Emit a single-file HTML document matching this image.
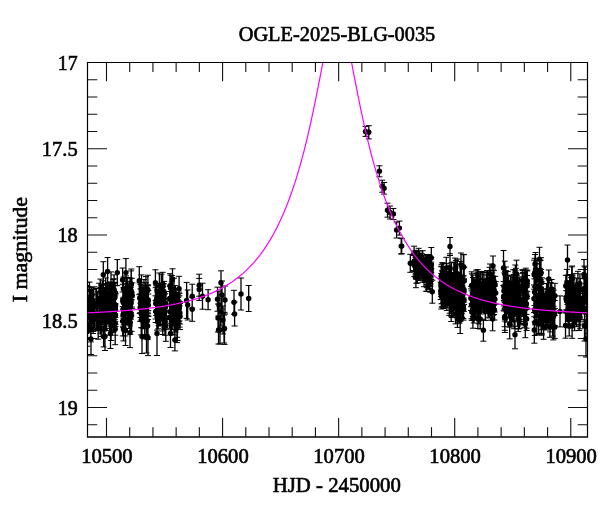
<!DOCTYPE html><html><head><meta charset="utf-8"><style>html,body{margin:0;padding:0;background:#fff;width:600px;height:512px;overflow:hidden}</style></head><body>
<svg width="600" height="512" viewBox="0 0 600 512" style="display:block;will-change:transform;font-family:'Liberation Serif',serif">
<rect width="600" height="512" fill="#fff"/>
<path d="M87.5,62.50h19.5M587.5,62.50h-19.5M87.5,79.75h9.8M587.5,79.75h-9.8M87.5,97.00h9.8M587.5,97.00h-9.8M87.5,114.25h9.8M587.5,114.25h-9.8M87.5,131.50h9.8M587.5,131.50h-9.8M87.5,148.75h19.5M587.5,148.75h-19.5M87.5,166.00h9.8M587.5,166.00h-9.8M87.5,183.25h9.8M587.5,183.25h-9.8M87.5,200.50h9.8M587.5,200.50h-9.8M87.5,217.75h9.8M587.5,217.75h-9.8M87.5,235.00h19.5M587.5,235.00h-19.5M87.5,252.25h9.8M587.5,252.25h-9.8M87.5,269.50h9.8M587.5,269.50h-9.8M87.5,286.75h9.8M587.5,286.75h-9.8M87.5,304.00h9.8M587.5,304.00h-9.8M87.5,321.25h19.5M587.5,321.25h-19.5M87.5,338.50h9.8M587.5,338.50h-9.8M87.5,355.75h9.8M587.5,355.75h-9.8M87.5,373.00h9.8M587.5,373.00h-9.8M87.5,390.25h9.8M587.5,390.25h-9.8M87.5,407.50h19.5M587.5,407.50h-19.5M87.5,424.75h9.8M587.5,424.75h-9.8M106.50,436.7v-18.8M106.50,62.5v18.8M129.71,436.7v-9.4M129.71,62.5v9.4M152.93,436.7v-9.4M152.93,62.5v9.4M176.14,436.7v-9.4M176.14,62.5v9.4M199.36,436.7v-9.4M199.36,62.5v9.4M222.57,436.7v-18.8M222.57,62.5v18.8M245.78,436.7v-9.4M245.78,62.5v9.4M269.00,436.7v-9.4M269.00,62.5v9.4M292.21,436.7v-9.4M292.21,62.5v9.4M315.43,436.7v-9.4M315.43,62.5v9.4M338.64,436.7v-18.8M338.64,62.5v18.8M361.85,436.7v-9.4M361.85,62.5v9.4M385.07,436.7v-9.4M385.07,62.5v9.4M408.28,436.7v-9.4M408.28,62.5v9.4M431.50,436.7v-9.4M431.50,62.5v9.4M454.71,436.7v-18.8M454.71,62.5v18.8M477.92,436.7v-9.4M477.92,62.5v9.4M501.14,436.7v-9.4M501.14,62.5v9.4M524.35,436.7v-9.4M524.35,62.5v9.4M547.57,436.7v-9.4M547.57,62.5v9.4M570.78,436.7v-18.8M570.78,62.5v18.8" stroke="#111" stroke-width="1.1" fill="none"/>
<g id="data" clip-path="url(#clip)">
<clipPath id="clip"><rect x="87.5" y="62.5" width="500" height="374.2"/></clipPath>
<path d="M419.9,255.2V271.2M422.5,258.9V282.2M421.4,256.4V275.9M416.1,262.3V278.1M416.9,256.3V279.1M422.3,258.7V279.1M414.1,251.2V270.9M421.8,257.6V275.4M421.6,257.0V275.1M418.4,262.3V278.7M416.9,257.1V271.5M416.6,255.8V278.6M416.4,251.4V270.0M418.2,254.9V274.4M418.8,255.3V272.5M419.3,251.0V272.6M423.5,262.7V276.9M421.5,255.7V273.4M419.9,264.6V278.9M423.4,259.5V274.7M416.0,255.4V279.1M415.5,257.4V277.9M419.8,259.0V277.3M414.4,252.2V271.4M414.3,253.9V276.6M418.9,254.2V271.6M418.4,254.9V274.8M422.7,250.7V271.6M420.0,262.8V280.4M418.9,253.0V272.2M418.7,248.3V269.9M416.4,260.1V283.2M414.1,246.2V261.8M415.8,250.3V273.7M420.6,258.1V272.2M415.9,266.1V287.7M417.5,260.9V283.0M414.0,255.5V270.8M421.9,253.7V271.9M415.5,252.8V274.9M423.6,259.7V273.9M428.5,256.2V273.3M429.8,255.3V278.7M427.6,267.1V286.5M429.3,264.7V286.8M425.3,255.3V275.9M425.1,262.4V282.5M426.4,262.8V278.7M424.9,262.5V282.2M426.3,266.0V280.4M431.1,257.3V279.3M428.1,265.7V289.3M426.2,259.3V281.8M425.7,265.5V280.0M431.1,264.2V281.6M427.1,258.0V275.2M431.3,257.3V272.4M427.6,259.6V279.9M427.7,263.7V285.7M430.7,266.8V284.0M429.4,262.9V285.5M428.1,254.6V276.6M426.9,269.1V284.4M430.5,264.4V286.1M426.8,264.9V287.7M430.9,263.3V279.3M424.0,267.0V286.7M426.9,254.5V274.8M427.7,258.1V278.2M431.1,262.1V277.1M425.5,260.9V281.5M429.9,271.8V292.1M428.9,266.2V288.5M429.2,263.6V285.6M428.5,257.1V274.4M431.3,247.5V268.7M426.2,268.5V291.2M426.7,268.6V291.5M441.8,282.0V307.2M440.7,282.2V299.5M445.8,274.8V291.7M442.3,262.7V288.5M445.1,278.4V295.6M448.2,284.1V301.8M443.6,267.9V289.6M442.6,270.4V290.9M444.2,275.7V299.2M445.9,283.8V301.7M441.3,283.8V309.0M443.6,268.1V286.2M441.6,266.8V290.5M445.9,285.7V302.3M447.3,279.7V300.5M443.6,283.9V300.2M443.5,289.4V308.5M444.9,287.9V307.0M442.3,283.5V306.7M442.5,283.2V303.7M443.2,275.6V292.2M444.3,277.1V303.0M441.2,266.2V291.1M446.7,280.4V305.6M445.2,283.7V302.2M443.0,282.1V302.0M441.1,276.0V294.3M446.8,274.8V292.1M441.6,276.3V292.7M441.6,264.3V285.4M441.6,286.5V303.7M441.2,278.7V296.4M447.9,271.4V296.0M442.7,271.6V292.4M443.0,263.2V281.0M447.3,274.3V297.0M445.6,288.5V307.2M442.0,270.8V292.0M444.1,274.1V293.0M447.7,273.0V294.2M443.6,276.8V299.1M446.3,257.3V278.7M441.3,273.5V293.4M446.5,263.4V287.3M446.9,285.6V310.4M451.5,262.6V289.4M450.9,288.9V305.7M450.5,269.0V295.2M464.2,267.3V294.7M463.6,297.9V320.1M452.3,272.7V289.5M464.0,278.8V304.4M452.0,294.0V313.5M456.7,289.5V314.5M456.6,285.1V306.3M463.2,293.6V318.5M449.3,282.3V301.9M453.7,287.1V309.8M458.2,294.9V318.2M449.7,288.4V313.2M452.4,289.9V308.7M456.0,274.9V304.4M462.6,285.9V305.9M460.7,279.1V299.4M461.8,293.7V313.3M460.7,280.1V297.1M459.9,281.2V303.1M462.1,290.6V317.4M459.5,280.7V306.6M460.3,277.5V296.2M453.5,297.9V315.9M451.3,278.4V298.9M460.7,294.3V321.0M451.3,293.8V316.6M463.2,276.9V305.8M458.1,289.6V314.8M453.9,262.1V286.8M463.5,275.6V302.4M451.2,295.0V321.5M456.8,286.4V307.2M450.1,286.1V305.7M464.0,289.2V311.3M457.8,289.4V312.2M461.4,287.9V305.9M453.2,279.2V301.3M461.4,268.0V293.0M459.8,276.0V293.9M458.9,276.0V294.0M463.7,281.4V299.9M455.5,304.0V323.9M455.3,272.7V302.2M459.6,283.2V299.5M461.9,279.0V297.5M454.0,287.7V306.0M459.3,300.5V323.2M452.0,301.3V317.6M457.4,277.3V299.7M460.9,287.3V305.6M449.7,284.5V304.3M460.2,306.5V333.5M448.9,265.2V283.7M463.8,254.7V279.3M456.1,264.1V285.8M455.2,258.1V280.0M460.1,293.5V320.9M457.0,299.4V317.7M460.2,261.4V290.3M450.0,253.8V282.3M457.6,274.3V299.7M457.5,310.7V327.4M463.4,254.4V279.6M449.3,291.0V315.4M455.9,260.4V287.2M458.7,303.1V322.1M457.4,259.1V288.4M493.2,298.6V315.0M473.9,282.0V309.0M478.9,283.3V306.6M471.8,303.6V320.4M491.8,279.1V302.0M493.9,270.6V292.1M495.7,281.6V304.3M486.3,272.6V297.5M487.6,270.6V294.8M488.0,284.8V312.7M485.3,302.5V320.4M494.8,286.2V312.0M486.2,290.9V311.8M479.4,278.0V303.4M483.8,285.5V312.2M471.5,290.9V318.8M489.1,289.9V309.0M488.3,295.8V317.2M481.5,284.5V311.8M492.3,272.9V300.2M489.9,289.0V309.5M479.4,282.6V309.8M472.9,275.0V295.9M474.3,290.2V310.7M475.6,294.4V319.5M478.6,273.6V295.3M482.2,287.3V308.7M494.2,293.9V314.5M478.0,282.7V303.9M493.5,280.1V297.8M488.0,283.9V300.7M492.3,285.4V310.4M481.1,291.3V314.0M471.1,286.4V310.5M490.7,270.7V296.3M477.1,297.6V316.4M474.6,301.1V319.9M491.0,273.7V293.0M488.2,278.4V298.1M476.3,273.2V298.3M477.7,297.8V318.3M494.5,300.1V320.0M477.7,269.6V293.3M488.6,281.9V300.1M474.2,277.7V295.0M491.4,283.3V307.7M473.9,297.9V323.0M483.9,272.5V292.1M471.9,273.8V297.5M484.8,287.9V304.3M492.2,286.9V307.7M473.1,293.1V316.1M477.9,284.9V304.0M490.1,274.6V294.7M486.2,280.0V303.3M478.8,300.9V323.9M486.7,295.8V313.7M482.4,271.6V296.1M492.6,298.2V315.2M478.3,276.4V304.1M489.9,296.6V315.0M486.9,270.9V289.9M489.5,299.6V318.0M480.5,271.4V299.3M489.1,285.3V304.8M488.5,290.2V313.5M480.7,282.8V310.7M471.7,271.8V299.2M495.1,276.3V292.8M488.8,278.3V300.5M476.1,270.1V293.3M489.3,274.9V299.4M478.0,274.3V294.3M482.7,285.4V305.3M492.5,283.7V299.8M482.2,291.2V307.6M478.2,278.0V300.6M478.6,272.7V289.6M472.9,309.8V328.2M476.5,285.6V305.6M477.8,287.0V303.8M475.3,283.8V300.1M472.6,284.4V311.5M482.6,279.1V300.3M476.4,286.0V304.4M489.5,267.3V291.8M494.1,282.6V298.7M477.8,309.5V328.5M485.3,281.6V309.2M483.7,279.4V306.1M472.9,293.0V316.7M474.1,299.0V316.2M493.1,269.1V289.0M482.9,285.1V301.4M491.1,301.6V320.2M472.7,292.6V308.9M485.9,289.7V307.2M492.6,307.2V330.8M492.7,277.3V294.5M471.1,288.9V306.7M484.0,274.9V301.8M480.2,309.0V329.0M490.0,264.0V284.0M472.8,277.5V294.5M477.6,275.4V301.0M519.7,301.6V319.7M516.6,275.5V298.0M518.3,302.1V331.6M505.9,278.0V297.4M509.7,298.8V327.2M517.5,300.4V326.3M526.4,292.9V314.4M523.1,286.1V313.5M518.9,276.9V298.4M516.0,285.4V314.1M503.9,281.5V300.5M524.9,275.1V294.5M505.1,271.4V298.4M506.6,298.7V322.1M520.1,305.2V324.9M523.0,273.3V297.5M522.4,269.7V291.3M514.4,277.7V302.3M507.7,271.6V298.6M504.3,273.0V301.3M523.9,292.8V311.5M527.0,283.5V308.6M509.4,281.4V311.2M524.3,276.1V299.6M513.2,291.6V318.9M511.0,281.4V300.6M515.6,280.9V309.4M503.7,285.1V310.1M514.1,300.0V328.7M508.3,275.6V303.1M520.6,293.1V321.5M515.6,282.4V301.1M524.4,300.7V327.3M525.0,284.8V305.2M511.1,288.6V309.8M510.2,302.4V324.3M526.0,293.0V318.1M515.6,270.8V296.4M505.8,270.6V299.8M504.6,308.6V326.7M527.3,270.9V291.3M517.4,280.3V302.6M504.8,302.5V330.3M515.8,268.3V292.9M515.6,274.1V298.2M513.9,274.5V301.7M526.3,270.4V296.2M526.3,287.2V308.7M506.5,293.0V312.0M507.1,280.3V303.9M513.3,269.8V298.4M523.5,298.2V323.4M518.5,301.3V319.9M521.0,289.7V313.0M517.3,273.9V296.5M508.5,288.1V313.1M523.1,291.4V316.4M503.8,281.6V311.0M520.3,301.8V323.9M508.2,283.4V306.3M514.8,286.7V312.1M526.9,270.0V298.7M516.4,288.2V314.7M504.9,297.3V321.0M513.8,293.9V321.7M519.3,277.9V301.7M504.9,302.9V332.5M509.6,296.7V318.1M503.9,286.3V305.9M516.5,281.8V309.7M512.7,298.8V320.4M515.6,272.6V300.8M510.6,291.6V317.0M519.3,295.3V319.4M507.7,290.1V309.1M525.3,310.3V337.7M526.5,309.5V328.2M515.3,265.0V294.6M514.7,269.6V298.1M524.1,281.2V302.8M510.5,306.6V326.2M522.8,270.4V299.1M510.4,275.2V298.9M520.8,304.6V324.1M511.5,302.0V326.0M518.0,282.0V303.0M525.7,268.2V291.1M504.8,261.2V286.8M522.9,272.4V301.4M516.5,260.2V287.8M512.6,302.0V322.0M511.9,276.2V299.9M505.2,295.4V319.3M509.7,309.1V338.9M518.5,309.8V328.9M505.8,267.0V291.1M519.6,299.6V328.6M526.6,307.7V330.5M527.0,275.5V296.6M524.8,270.1V294.8M536.5,263.9V286.0M541.2,284.3V309.7M534.7,258.3V287.1M535.6,286.1V308.4M534.7,297.4V322.1M539.6,293.8V317.2M536.3,290.4V316.2M541.0,257.7V287.3M541.0,272.9V292.6M541.3,303.7V333.3M536.0,263.7V289.6M534.0,285.0V312.6M537.0,259.9V285.5M541.5,306.5V334.9M540.0,268.3V290.2M534.5,278.9V305.4M539.5,288.9V310.1M541.2,296.8V320.9M541.5,307.5V333.7M539.6,299.6V320.0M540.7,279.4V298.1M540.6,260.3V287.8M536.8,294.3V322.1M534.8,309.5V335.5M539.7,260.0V281.8M535.1,298.9V324.8M537.0,270.0V289.0M541.8,281.9V307.8M538.4,285.8V310.7M538.1,290.5V315.9M541.4,311.8V335.1M536.2,296.8V317.5M541.8,277.8V304.5M541.1,306.2V329.8M536.8,307.6V334.6M536.6,293.5V315.9M535.0,254.5V273.5M541.1,269.4V293.9M535.4,273.9V299.4M534.1,260.2V289.2M540.9,287.2V315.8M538.7,314.7V333.4M539.2,272.4V299.6M539.7,260.7V281.8M534.3,316.8V343.2M546.8,302.7V325.8M546.1,302.3V321.2M548.2,289.8V311.7M548.8,290.9V318.4M551.0,301.8V320.6M550.2,306.3V331.9M550.8,289.5V316.2M546.9,293.7V316.8M550.7,282.6V308.6M546.4,301.9V324.3M549.8,295.8V317.3M547.9,304.2V327.3M549.2,291.1V311.0M542.0,301.6V322.7M548.4,302.0V323.0M544.7,293.1V321.0M546.9,289.2V310.6M542.8,295.3V315.6M550.5,300.7V328.1M553.6,290.2V309.6M546.5,283.5V311.2M543.2,293.8V320.3M550.0,288.9V313.3M543.5,304.7V327.0M553.6,306.3V326.2M543.4,310.0V329.1M546.6,307.3V326.4M548.3,301.1V322.6M543.4,288.8V310.9M546.0,302.8V330.0M545.4,302.2V325.6M551.2,300.5V328.4M554.8,300.5V325.7M546.6,306.8V326.3M552.2,291.0V314.5M543.7,302.7V322.3M549.5,300.8V319.2M547.5,278.8V306.2M545.6,305.7V327.0M552.6,288.5V308.4M551.7,279.5V298.5M543.6,314.7V339.3M545.7,306.1V328.7M552.6,317.9V336.1M554.9,283.3V308.4M549.9,316.7V337.3M553.3,314.1V339.9M554.8,315.6V338.4M571.1,277.6V297.3M570.3,286.9V308.7M572.6,301.5V324.2M575.9,294.4V321.9M573.9,273.6V301.0M566.2,285.2V312.9M570.7,294.7V320.0M568.0,296.7V321.5M566.6,290.5V311.2M567.5,280.7V302.4M568.1,309.8V327.8M575.6,288.2V314.5M573.3,299.7V320.5M574.5,294.3V313.1M572.8,277.2V298.4M568.8,282.7V303.9M569.6,274.6V299.8M570.1,282.6V300.7M568.6,281.9V302.2M569.9,286.0V313.0M573.6,283.0V309.5M566.3,285.5V309.8M568.4,301.8V325.4M570.5,275.6V295.9M572.6,275.2V302.0M572.3,300.5V326.1M573.1,292.1V315.3M566.6,290.6V310.2M567.4,284.3V304.4M568.7,293.1V314.9M568.5,282.1V303.4M573.4,305.7V324.3M575.9,302.8V324.9M572.7,285.0V307.5M565.8,275.4V296.3M568.6,305.1V327.0M573.9,284.8V306.1M575.2,298.5V320.3M571.7,266.9V291.1M569.2,303.4V326.4M569.2,316.0V336.0M572.2,266.0V292.0M574.6,307.6V330.7M569.1,297.4V320.0M567.5,288.1V313.2M565.5,312.7V338.2M566.9,269.4V295.9M574.4,292.2V318.3M572.1,313.7V338.3M575.9,286.6V311.8M578.5,283.8V302.3M587.2,285.7V307.9M580.1,300.4V324.9M580.1,289.9V309.4M577.9,271.3V297.7M582.4,290.2V310.2M576.3,278.1V303.2M586.5,273.7V293.3M588.0,306.7V333.5M588.4,284.2V304.2M578.1,290.8V316.1M586.3,283.4V309.8M589.4,274.8V295.3M576.6,307.8V326.7M579.1,306.6V330.5M580.3,278.6V301.6M583.4,287.5V310.3M578.8,284.3V310.1M584.6,278.0V300.7M581.5,296.7V319.6M586.5,301.3V324.2M584.5,300.6V323.1M587.0,297.6V319.7M579.9,273.9V293.5M587.3,281.2V302.2M587.8,292.2V312.9M587.6,316.8V337.2M577.1,293.9V319.7M591.1,302.9V322.1M585.2,267.0V287.0M580.4,288.2V311.4M582.9,290.2V311.4M584.3,287.6V308.0M584.3,266.1V287.9M580.0,305.8V328.8M97.5,291.7V316.3M102.5,280.8V309.8M100.5,306.1V333.8M93.3,307.4V331.4M93.7,303.8V330.2M93.1,306.2V333.5M90.1,289.4V315.8M102.2,297.9V319.2M87.2,282.3V314.2M89.5,282.1V313.7M97.3,308.1V328.6M96.0,288.6V320.0M90.7,315.5V341.9M101.9,299.9V321.4M93.0,289.6V319.5M96.1,304.2V329.4M87.5,311.0V339.6M101.1,299.2V329.1M87.8,286.4V312.9M92.7,302.9V323.5M101.1,306.8V336.6M102.1,291.6V320.0M101.4,288.0V318.9M100.1,307.0V330.3M90.0,296.5V325.9M86.5,285.4V315.9M93.7,294.6V318.9M87.1,291.1V316.0M102.3,300.5V324.5M86.1,300.9V321.0M91.5,308.4V331.2M89.5,304.0V328.0M86.2,286.1V307.4M94.5,298.9V328.1M87.3,305.1V330.2M101.3,300.5V327.3M97.7,307.0V330.5M92.3,293.2V317.5M100.3,287.4V316.4M99.5,305.1V330.7M91.5,287.4V314.5M100.4,279.1V304.2M101.8,305.4V332.1M96.5,288.5V319.2M92.0,295.8V319.0M101.3,285.0V311.2M102.0,284.6V312.9M91.9,289.6V310.7M87.5,291.2V322.7M100.8,300.2V326.1M89.6,301.6V324.5M87.4,317.0V346.2M93.5,288.1V317.9M98.2,311.6V339.2M99.2,283.2V314.1M86.3,316.6V337.7M102.0,285.2V311.5M90.2,290.0V318.9M91.0,323.5V354.5M100.2,301.0V328.7M111.1,311.3V340.5M108.2,288.3V309.8M110.7,303.2V323.3M110.5,282.0V314.0M115.2,311.5V335.2M114.2,291.0V317.1M113.0,295.2V317.7M115.5,304.1V326.6M103.9,305.9V330.7M113.4,282.3V311.7M109.3,293.7V314.1M113.1,279.4V309.5M107.0,292.3V324.2M109.3,292.7V319.4M114.1,291.7V316.0M103.5,289.4V312.2M106.9,292.4V314.6M109.6,288.3V312.2M114.5,296.7V326.9M106.6,310.6V330.7M114.1,274.9V304.3M106.3,292.0V320.0M107.1,293.1V313.4M110.5,301.0V321.8M111.8,284.0V312.8M114.9,291.6V319.7M114.9,285.8V309.5M106.4,298.1V328.4M113.1,296.6V319.2M111.6,293.0V318.1M108.2,299.6V321.0M113.5,290.9V318.7M115.1,282.5V303.5M109.5,301.3V323.4M115.4,295.0V324.2M104.7,292.6V318.6M105.2,301.9V329.8M113.3,303.6V332.4M107.1,283.5V310.8M110.9,288.8V311.2M109.7,306.7V335.1M105.0,309.1V330.5M113.2,288.7V312.0M113.0,283.7V309.1M105.0,290.6V311.9M106.5,291.9V313.2M113.8,278.8V306.7M115.3,292.8V321.7M114.7,283.3V307.7M109.8,283.8V308.4M105.7,277.9V300.4M113.6,293.9V320.2M111.6,305.1V332.0M113.8,299.2V330.4M103.6,326.4V346.9M115.2,313.8V344.7M108.2,282.3V314.2M115.5,293.5V317.6M111.0,271.9V300.6M110.4,296.1V326.0M129.0,298.0V324.5M125.4,309.8V335.9M128.7,285.2V309.6M131.3,269.0V299.4M123.6,287.5V318.3M127.3,291.8V313.7M122.7,306.6V335.9M130.9,289.3V312.6M130.3,292.8V315.0M123.0,298.2V320.5M130.0,304.8V331.7M129.4,291.8V315.1M123.8,301.9V324.8M127.8,298.1V319.3M129.4,289.4V313.3M125.9,290.1V319.3M127.5,294.1V314.4M132.3,282.9V308.7M128.9,301.3V328.5M127.5,281.2V301.8M123.2,302.8V326.3M123.7,297.2V328.0M131.0,287.2V319.1M129.9,282.0V312.2M130.9,290.9V313.0M128.3,293.7V322.8M128.3,298.0V323.4M127.8,295.6V317.6M129.9,300.0V325.8M125.8,283.4V314.5M127.5,290.8V321.4M127.2,277.5V302.2M129.1,300.5V321.3M124.7,290.0V320.8M122.8,284.3V316.2M123.4,301.4V327.5M124.3,298.9V321.6M131.1,270.9V297.5M129.7,290.2V318.5M130.0,278.0V303.8M126.1,275.9V300.1M123.5,318.0V340.9M123.4,277.1V300.7M128.8,298.2V318.8M130.2,311.2V334.3M131.6,299.8V331.3M126.1,278.7V298.8M131.9,278.3V307.0M146.6,304.0V335.1M143.1,288.0V315.5M144.9,303.2V328.2M141.5,288.9V310.6M145.5,291.3V320.4M145.9,276.6V303.0M146.1,294.5V316.6M143.9,291.9V323.7M148.2,285.0V316.4M147.3,285.0V316.1M144.7,309.0V338.9M145.6,282.9V309.3M142.0,285.7V309.3M148.0,285.8V313.6M145.3,306.9V328.7M147.6,312.2V339.6M142.1,299.6V320.4M148.3,290.5V310.6M140.4,288.9V317.4M144.3,304.5V328.6M140.5,284.6V313.0M141.2,305.4V334.8M146.4,304.7V334.8M140.1,293.9V321.3M142.9,297.7V327.9M141.2,299.8V327.7M147.2,305.4V336.6M140.2,282.2V312.9M142.5,307.4V327.9M147.2,292.0V315.2M145.7,287.8V312.4M145.8,296.4V319.4M148.4,294.0V316.1M139.7,282.9V313.4M145.5,282.5V302.8M146.2,287.4V309.6M141.5,274.9V304.0M144.0,279.6V302.3M142.5,297.0V320.1M141.6,286.0V317.6M147.9,275.2V304.3M144.1,300.6V326.0M145.4,291.9V313.6M158.3,303.9V328.8M165.8,310.3V341.3M163.8,298.6V329.2M156.2,285.8V315.5M162.9,285.9V310.4M159.4,273.0V299.4M163.1,289.6V311.7M158.6,289.9V319.0M156.9,299.4V330.1M155.7,300.5V322.5M158.6,296.8V325.8M164.5,293.8V322.1M164.9,301.7V322.2M162.7,303.5V334.5M163.4,283.5V309.3M157.5,290.3V313.5M159.2,283.3V303.7M164.9,305.9V335.3M165.9,305.6V329.7M160.2,299.7V325.9M163.6,284.0V306.4M165.3,293.9V321.2M166.0,291.5V316.3M158.6,291.9V321.6M162.4,290.3V318.3M159.6,296.3V325.0M160.4,290.9V314.0M160.4,303.3V324.1M158.4,292.9V323.5M155.7,287.7V319.0M163.5,291.1V318.9M162.8,286.5V317.6M164.3,299.1V327.6M157.1,289.9V317.2M158.0,296.1V321.2M161.8,290.3V314.6M156.8,284.7V310.6M164.2,281.4V304.0M161.3,274.3V299.4M162.6,304.9V331.0M157.2,291.9V312.3M160.5,299.9V324.6M162.8,287.3V310.7M176.2,292.8V322.1M178.0,294.8V321.5M176.0,292.7V323.5M176.5,301.4V327.3M175.9,293.1V314.4M172.2,306.5V329.7M173.5,298.2V326.1M178.4,297.1V321.7M179.4,295.8V320.9M171.4,300.3V325.1M169.6,306.0V328.3M179.6,305.9V327.1M178.5,301.1V321.7M175.9,301.9V329.9M178.1,297.1V321.0M175.7,306.5V332.0M179.0,292.1V323.4M172.1,275.6V303.1M174.2,305.2V334.9M176.5,294.4V323.5M171.8,281.7V313.2M177.0,295.8V316.6M172.3,287.7V312.4M177.0,311.2V342.6M177.9,299.7V325.3M174.0,278.2V309.6M179.9,301.8V324.0M176.1,294.0V314.8M177.4,309.9V340.6M169.7,286.1V311.0M170.7,275.2V301.2M177.0,293.0V324.2M179.4,293.6V316.2M176.1,288.4V320.1M179.1,276.3V301.1M170.1,300.4V323.3M177.2,314.5V337.3M180.0,303.4V329.6M175.4,285.6V311.2M171.4,304.2V334.8M175.9,289.4V310.0M172.5,268.8V289.3M174.9,329.1V350.9M586.0,321.0V357.0M584.5,311.0V341.0M105.0,322.5V350.5M110.5,318.5V348.5M125.5,315.5V345.5M130.0,317.6V347.6M142.0,319.5V353.5M148.0,319.6V355.6M146.5,321.0V353.0M157.0,311.5V355.5M170.5,319.5V347.5M218.5,316.0V344.0M224.5,312.4V344.4M103.3,261.7V287.7M107.6,257.5V285.5M117.3,259.6V285.6M122.6,268.0V292.0M125.9,258.6V286.6M139.3,266.7V294.7M155.4,269.8V295.8M162.7,272.3V296.3M170.0,273.7V297.7M186.6,282.4V318.4M187.7,290.0V320.0M192.2,284.2V308.2M192.2,297.3V321.3M199.2,274.2V296.2M199.2,278.4V300.4M202.5,283.2V309.2M208.1,289.7V309.7M217.5,287.2V311.2M221.0,270.8V294.8M219.0,291.0V319.0M221.0,298.0V326.0M223.0,306.0V334.0M225.0,286.0V314.0M218.0,304.0V332.0M220.0,316.0V344.0M224.0,315.0V343.0M222.0,281.0V309.0M234.0,290.3V314.3M234.6,302.0V326.0M241.0,278.0V310.0M248.7,285.5V311.5M365.5,126.4V136.4M368.8,125.7V138.9M379.4,165.8V176.8M382.2,180.2V192.2M384.1,182.5V194.1M387.5,203.2V217.2M390.0,206.0V219.0M393.4,208.5V219.5M503.5,250.5V285.5M535.5,252.5V286.5M539.5,247.3V271.3M567.5,245.0V275.0M584.0,259.5V289.5M461.0,253.0V277.0M493.0,256.0V276.0M548.8,270.0V288.0M432.3,280.2V303.2M396.6,222.0V238.0M399.4,221.1V235.1M401.2,238.1V254.1M401.7,238.6V253.6M410.3,254.3V272.3M450.0,237.5V255.5M483.4,319.2V341.2M515.0,320.8V348.8M560.0,295.9V326.9" stroke="#000" stroke-width="1.3" fill="none"/>
<path d="M416.9,255.2h6M416.9,271.2h6M419.5,258.9h6M419.5,282.2h6M418.4,256.4h6M418.4,275.9h6M413.1,262.3h6M413.1,278.1h6M413.9,256.3h6M413.9,279.1h6M419.3,258.7h6M419.3,279.1h6M411.1,251.2h6M411.1,270.9h6M418.8,257.6h6M418.8,275.4h6M418.6,257.0h6M418.6,275.1h6M415.4,262.3h6M415.4,278.7h6M413.9,257.1h6M413.9,271.5h6M413.6,255.8h6M413.6,278.6h6M413.4,251.4h6M413.4,270.0h6M415.2,254.9h6M415.2,274.4h6M415.8,255.3h6M415.8,272.5h6M416.3,251.0h6M416.3,272.6h6M420.5,262.7h6M420.5,276.9h6M418.5,255.7h6M418.5,273.4h6M416.9,264.6h6M416.9,278.9h6M420.4,259.5h6M420.4,274.7h6M413.0,255.4h6M413.0,279.1h6M412.5,257.4h6M412.5,277.9h6M416.8,259.0h6M416.8,277.3h6M411.4,252.2h6M411.4,271.4h6M411.3,253.9h6M411.3,276.6h6M415.9,254.2h6M415.9,271.6h6M415.4,254.9h6M415.4,274.8h6M419.7,250.7h6M419.7,271.6h6M417.0,262.8h6M417.0,280.4h6M415.9,253.0h6M415.9,272.2h6M415.7,248.3h6M415.7,269.9h6M413.4,260.1h6M413.4,283.2h6M411.1,246.2h6M411.1,261.8h6M412.8,250.3h6M412.8,273.7h6M417.6,258.1h6M417.6,272.2h6M412.9,266.1h6M412.9,287.7h6M414.5,260.9h6M414.5,283.0h6M411.0,255.5h6M411.0,270.8h6M418.9,253.7h6M418.9,271.9h6M412.5,252.8h6M412.5,274.9h6M420.6,259.7h6M420.6,273.9h6M425.5,256.2h6M425.5,273.3h6M426.8,255.3h6M426.8,278.7h6M424.6,267.1h6M424.6,286.5h6M426.3,264.7h6M426.3,286.8h6M422.3,255.3h6M422.3,275.9h6M422.1,262.4h6M422.1,282.5h6M423.4,262.8h6M423.4,278.7h6M421.9,262.5h6M421.9,282.2h6M423.3,266.0h6M423.3,280.4h6M428.1,257.3h6M428.1,279.3h6M425.1,265.7h6M425.1,289.3h6M423.2,259.3h6M423.2,281.8h6M422.7,265.5h6M422.7,280.0h6M428.1,264.2h6M428.1,281.6h6M424.1,258.0h6M424.1,275.2h6M428.3,257.3h6M428.3,272.4h6M424.6,259.6h6M424.6,279.9h6M424.7,263.7h6M424.7,285.7h6M427.7,266.8h6M427.7,284.0h6M426.4,262.9h6M426.4,285.5h6M425.1,254.6h6M425.1,276.6h6M423.9,269.1h6M423.9,284.4h6M427.5,264.4h6M427.5,286.1h6M423.8,264.9h6M423.8,287.7h6M427.9,263.3h6M427.9,279.3h6M421.0,267.0h6M421.0,286.7h6M423.9,254.5h6M423.9,274.8h6M424.7,258.1h6M424.7,278.2h6M428.1,262.1h6M428.1,277.1h6M422.5,260.9h6M422.5,281.5h6M426.9,271.8h6M426.9,292.1h6M425.9,266.2h6M425.9,288.5h6M426.2,263.6h6M426.2,285.6h6M425.5,257.1h6M425.5,274.4h6M428.3,247.5h6M428.3,268.7h6M423.2,268.5h6M423.2,291.2h6M423.7,268.6h6M423.7,291.5h6M438.8,282.0h6M438.8,307.2h6M437.7,282.2h6M437.7,299.5h6M442.8,274.8h6M442.8,291.7h6M439.3,262.7h6M439.3,288.5h6M442.1,278.4h6M442.1,295.6h6M445.2,284.1h6M445.2,301.8h6M440.6,267.9h6M440.6,289.6h6M439.6,270.4h6M439.6,290.9h6M441.2,275.7h6M441.2,299.2h6M442.9,283.8h6M442.9,301.7h6M438.3,283.8h6M438.3,309.0h6M440.6,268.1h6M440.6,286.2h6M438.6,266.8h6M438.6,290.5h6M442.9,285.7h6M442.9,302.3h6M444.3,279.7h6M444.3,300.5h6M440.6,283.9h6M440.6,300.2h6M440.5,289.4h6M440.5,308.5h6M441.9,287.9h6M441.9,307.0h6M439.3,283.5h6M439.3,306.7h6M439.5,283.2h6M439.5,303.7h6M440.2,275.6h6M440.2,292.2h6M441.3,277.1h6M441.3,303.0h6M438.2,266.2h6M438.2,291.1h6M443.7,280.4h6M443.7,305.6h6M442.2,283.7h6M442.2,302.2h6M440.0,282.1h6M440.0,302.0h6M438.1,276.0h6M438.1,294.3h6M443.8,274.8h6M443.8,292.1h6M438.6,276.3h6M438.6,292.7h6M438.6,264.3h6M438.6,285.4h6M438.6,286.5h6M438.6,303.7h6M438.2,278.7h6M438.2,296.4h6M444.9,271.4h6M444.9,296.0h6M439.7,271.6h6M439.7,292.4h6M440.0,263.2h6M440.0,281.0h6M444.3,274.3h6M444.3,297.0h6M442.6,288.5h6M442.6,307.2h6M439.0,270.8h6M439.0,292.0h6M441.1,274.1h6M441.1,293.0h6M444.7,273.0h6M444.7,294.2h6M440.6,276.8h6M440.6,299.1h6M443.3,257.3h6M443.3,278.7h6M438.3,273.5h6M438.3,293.4h6M443.5,263.4h6M443.5,287.3h6M443.9,285.6h6M443.9,310.4h6M448.5,262.6h6M448.5,289.4h6M447.9,288.9h6M447.9,305.7h6M447.5,269.0h6M447.5,295.2h6M461.2,267.3h6M461.2,294.7h6M460.6,297.9h6M460.6,320.1h6M449.3,272.7h6M449.3,289.5h6M461.0,278.8h6M461.0,304.4h6M449.0,294.0h6M449.0,313.5h6M453.7,289.5h6M453.7,314.5h6M453.6,285.1h6M453.6,306.3h6M460.2,293.6h6M460.2,318.5h6M446.3,282.3h6M446.3,301.9h6M450.7,287.1h6M450.7,309.8h6M455.2,294.9h6M455.2,318.2h6M446.7,288.4h6M446.7,313.2h6M449.4,289.9h6M449.4,308.7h6M453.0,274.9h6M453.0,304.4h6M459.6,285.9h6M459.6,305.9h6M457.7,279.1h6M457.7,299.4h6M458.8,293.7h6M458.8,313.3h6M457.7,280.1h6M457.7,297.1h6M456.9,281.2h6M456.9,303.1h6M459.1,290.6h6M459.1,317.4h6M456.5,280.7h6M456.5,306.6h6M457.3,277.5h6M457.3,296.2h6M450.5,297.9h6M450.5,315.9h6M448.3,278.4h6M448.3,298.9h6M457.7,294.3h6M457.7,321.0h6M448.3,293.8h6M448.3,316.6h6M460.2,276.9h6M460.2,305.8h6M455.1,289.6h6M455.1,314.8h6M450.9,262.1h6M450.9,286.8h6M460.5,275.6h6M460.5,302.4h6M448.2,295.0h6M448.2,321.5h6M453.8,286.4h6M453.8,307.2h6M447.1,286.1h6M447.1,305.7h6M461.0,289.2h6M461.0,311.3h6M454.8,289.4h6M454.8,312.2h6M458.4,287.9h6M458.4,305.9h6M450.2,279.2h6M450.2,301.3h6M458.4,268.0h6M458.4,293.0h6M456.8,276.0h6M456.8,293.9h6M455.9,276.0h6M455.9,294.0h6M460.7,281.4h6M460.7,299.9h6M452.5,304.0h6M452.5,323.9h6M452.3,272.7h6M452.3,302.2h6M456.6,283.2h6M456.6,299.5h6M458.9,279.0h6M458.9,297.5h6M451.0,287.7h6M451.0,306.0h6M456.3,300.5h6M456.3,323.2h6M449.0,301.3h6M449.0,317.6h6M454.4,277.3h6M454.4,299.7h6M457.9,287.3h6M457.9,305.6h6M446.7,284.5h6M446.7,304.3h6M457.2,306.5h6M457.2,333.5h6M445.9,265.2h6M445.9,283.7h6M460.8,254.7h6M460.8,279.3h6M453.1,264.1h6M453.1,285.8h6M452.2,258.1h6M452.2,280.0h6M457.1,293.5h6M457.1,320.9h6M454.0,299.4h6M454.0,317.7h6M457.2,261.4h6M457.2,290.3h6M447.0,253.8h6M447.0,282.3h6M454.6,274.3h6M454.6,299.7h6M454.5,310.7h6M454.5,327.4h6M460.4,254.4h6M460.4,279.6h6M446.3,291.0h6M446.3,315.4h6M452.9,260.4h6M452.9,287.2h6M455.7,303.1h6M455.7,322.1h6M454.4,259.1h6M454.4,288.4h6M490.2,298.6h6M490.2,315.0h6M470.9,282.0h6M470.9,309.0h6M475.9,283.3h6M475.9,306.6h6M468.8,303.6h6M468.8,320.4h6M488.8,279.1h6M488.8,302.0h6M490.9,270.6h6M490.9,292.1h6M492.7,281.6h6M492.7,304.3h6M483.3,272.6h6M483.3,297.5h6M484.6,270.6h6M484.6,294.8h6M485.0,284.8h6M485.0,312.7h6M482.3,302.5h6M482.3,320.4h6M491.8,286.2h6M491.8,312.0h6M483.2,290.9h6M483.2,311.8h6M476.4,278.0h6M476.4,303.4h6M480.8,285.5h6M480.8,312.2h6M468.5,290.9h6M468.5,318.8h6M486.1,289.9h6M486.1,309.0h6M485.3,295.8h6M485.3,317.2h6M478.5,284.5h6M478.5,311.8h6M489.3,272.9h6M489.3,300.2h6M486.9,289.0h6M486.9,309.5h6M476.4,282.6h6M476.4,309.8h6M469.9,275.0h6M469.9,295.9h6M471.3,290.2h6M471.3,310.7h6M472.6,294.4h6M472.6,319.5h6M475.6,273.6h6M475.6,295.3h6M479.2,287.3h6M479.2,308.7h6M491.2,293.9h6M491.2,314.5h6M475.0,282.7h6M475.0,303.9h6M490.5,280.1h6M490.5,297.8h6M485.0,283.9h6M485.0,300.7h6M489.3,285.4h6M489.3,310.4h6M478.1,291.3h6M478.1,314.0h6M468.1,286.4h6M468.1,310.5h6M487.7,270.7h6M487.7,296.3h6M474.1,297.6h6M474.1,316.4h6M471.6,301.1h6M471.6,319.9h6M488.0,273.7h6M488.0,293.0h6M485.2,278.4h6M485.2,298.1h6M473.3,273.2h6M473.3,298.3h6M474.7,297.8h6M474.7,318.3h6M491.5,300.1h6M491.5,320.0h6M474.7,269.6h6M474.7,293.3h6M485.6,281.9h6M485.6,300.1h6M471.2,277.7h6M471.2,295.0h6M488.4,283.3h6M488.4,307.7h6M470.9,297.9h6M470.9,323.0h6M480.9,272.5h6M480.9,292.1h6M468.9,273.8h6M468.9,297.5h6M481.8,287.9h6M481.8,304.3h6M489.2,286.9h6M489.2,307.7h6M470.1,293.1h6M470.1,316.1h6M474.9,284.9h6M474.9,304.0h6M487.1,274.6h6M487.1,294.7h6M483.2,280.0h6M483.2,303.3h6M475.8,300.9h6M475.8,323.9h6M483.7,295.8h6M483.7,313.7h6M479.4,271.6h6M479.4,296.1h6M489.6,298.2h6M489.6,315.2h6M475.3,276.4h6M475.3,304.1h6M486.9,296.6h6M486.9,315.0h6M483.9,270.9h6M483.9,289.9h6M486.5,299.6h6M486.5,318.0h6M477.5,271.4h6M477.5,299.3h6M486.1,285.3h6M486.1,304.8h6M485.5,290.2h6M485.5,313.5h6M477.7,282.8h6M477.7,310.7h6M468.7,271.8h6M468.7,299.2h6M492.1,276.3h6M492.1,292.8h6M485.8,278.3h6M485.8,300.5h6M473.1,270.1h6M473.1,293.3h6M486.3,274.9h6M486.3,299.4h6M475.0,274.3h6M475.0,294.3h6M479.7,285.4h6M479.7,305.3h6M489.5,283.7h6M489.5,299.8h6M479.2,291.2h6M479.2,307.6h6M475.2,278.0h6M475.2,300.6h6M475.6,272.7h6M475.6,289.6h6M469.9,309.8h6M469.9,328.2h6M473.5,285.6h6M473.5,305.6h6M474.8,287.0h6M474.8,303.8h6M472.3,283.8h6M472.3,300.1h6M469.6,284.4h6M469.6,311.5h6M479.6,279.1h6M479.6,300.3h6M473.4,286.0h6M473.4,304.4h6M486.5,267.3h6M486.5,291.8h6M491.1,282.6h6M491.1,298.7h6M474.8,309.5h6M474.8,328.5h6M482.3,281.6h6M482.3,309.2h6M480.7,279.4h6M480.7,306.1h6M469.9,293.0h6M469.9,316.7h6M471.1,299.0h6M471.1,316.2h6M490.1,269.1h6M490.1,289.0h6M479.9,285.1h6M479.9,301.4h6M488.1,301.6h6M488.1,320.2h6M469.7,292.6h6M469.7,308.9h6M482.9,289.7h6M482.9,307.2h6M489.6,307.2h6M489.6,330.8h6M489.7,277.3h6M489.7,294.5h6M468.1,288.9h6M468.1,306.7h6M481.0,274.9h6M481.0,301.8h6M477.2,309.0h6M477.2,329.0h6M487.0,264.0h6M487.0,284.0h6M469.8,277.5h6M469.8,294.5h6M474.6,275.4h6M474.6,301.0h6M516.7,301.6h6M516.7,319.7h6M513.6,275.5h6M513.6,298.0h6M515.3,302.1h6M515.3,331.6h6M502.9,278.0h6M502.9,297.4h6M506.7,298.8h6M506.7,327.2h6M514.5,300.4h6M514.5,326.3h6M523.4,292.9h6M523.4,314.4h6M520.1,286.1h6M520.1,313.5h6M515.9,276.9h6M515.9,298.4h6M513.0,285.4h6M513.0,314.1h6M500.9,281.5h6M500.9,300.5h6M521.9,275.1h6M521.9,294.5h6M502.1,271.4h6M502.1,298.4h6M503.6,298.7h6M503.6,322.1h6M517.1,305.2h6M517.1,324.9h6M520.0,273.3h6M520.0,297.5h6M519.4,269.7h6M519.4,291.3h6M511.4,277.7h6M511.4,302.3h6M504.7,271.6h6M504.7,298.6h6M501.3,273.0h6M501.3,301.3h6M520.9,292.8h6M520.9,311.5h6M524.0,283.5h6M524.0,308.6h6M506.4,281.4h6M506.4,311.2h6M521.3,276.1h6M521.3,299.6h6M510.2,291.6h6M510.2,318.9h6M508.0,281.4h6M508.0,300.6h6M512.6,280.9h6M512.6,309.4h6M500.7,285.1h6M500.7,310.1h6M511.1,300.0h6M511.1,328.7h6M505.3,275.6h6M505.3,303.1h6M517.6,293.1h6M517.6,321.5h6M512.6,282.4h6M512.6,301.1h6M521.4,300.7h6M521.4,327.3h6M522.0,284.8h6M522.0,305.2h6M508.1,288.6h6M508.1,309.8h6M507.2,302.4h6M507.2,324.3h6M523.0,293.0h6M523.0,318.1h6M512.6,270.8h6M512.6,296.4h6M502.8,270.6h6M502.8,299.8h6M501.6,308.6h6M501.6,326.7h6M524.3,270.9h6M524.3,291.3h6M514.4,280.3h6M514.4,302.6h6M501.8,302.5h6M501.8,330.3h6M512.8,268.3h6M512.8,292.9h6M512.6,274.1h6M512.6,298.2h6M510.9,274.5h6M510.9,301.7h6M523.3,270.4h6M523.3,296.2h6M523.3,287.2h6M523.3,308.7h6M503.5,293.0h6M503.5,312.0h6M504.1,280.3h6M504.1,303.9h6M510.3,269.8h6M510.3,298.4h6M520.5,298.2h6M520.5,323.4h6M515.5,301.3h6M515.5,319.9h6M518.0,289.7h6M518.0,313.0h6M514.3,273.9h6M514.3,296.5h6M505.5,288.1h6M505.5,313.1h6M520.1,291.4h6M520.1,316.4h6M500.8,281.6h6M500.8,311.0h6M517.3,301.8h6M517.3,323.9h6M505.2,283.4h6M505.2,306.3h6M511.8,286.7h6M511.8,312.1h6M523.9,270.0h6M523.9,298.7h6M513.4,288.2h6M513.4,314.7h6M501.9,297.3h6M501.9,321.0h6M510.8,293.9h6M510.8,321.7h6M516.3,277.9h6M516.3,301.7h6M501.9,302.9h6M501.9,332.5h6M506.6,296.7h6M506.6,318.1h6M500.9,286.3h6M500.9,305.9h6M513.5,281.8h6M513.5,309.7h6M509.7,298.8h6M509.7,320.4h6M512.6,272.6h6M512.6,300.8h6M507.6,291.6h6M507.6,317.0h6M516.3,295.3h6M516.3,319.4h6M504.7,290.1h6M504.7,309.1h6M522.3,310.3h6M522.3,337.7h6M523.5,309.5h6M523.5,328.2h6M512.3,265.0h6M512.3,294.6h6M511.7,269.6h6M511.7,298.1h6M521.1,281.2h6M521.1,302.8h6M507.5,306.6h6M507.5,326.2h6M519.8,270.4h6M519.8,299.1h6M507.4,275.2h6M507.4,298.9h6M517.8,304.6h6M517.8,324.1h6M508.5,302.0h6M508.5,326.0h6M515.0,282.0h6M515.0,303.0h6M522.7,268.2h6M522.7,291.1h6M501.8,261.2h6M501.8,286.8h6M519.9,272.4h6M519.9,301.4h6M513.5,260.2h6M513.5,287.8h6M509.6,302.0h6M509.6,322.0h6M508.9,276.2h6M508.9,299.9h6M502.2,295.4h6M502.2,319.3h6M506.7,309.1h6M506.7,338.9h6M515.5,309.8h6M515.5,328.9h6M502.8,267.0h6M502.8,291.1h6M516.6,299.6h6M516.6,328.6h6M523.6,307.7h6M523.6,330.5h6M524.0,275.5h6M524.0,296.6h6M521.8,270.1h6M521.8,294.8h6M533.5,263.9h6M533.5,286.0h6M538.2,284.3h6M538.2,309.7h6M531.7,258.3h6M531.7,287.1h6M532.6,286.1h6M532.6,308.4h6M531.7,297.4h6M531.7,322.1h6M536.6,293.8h6M536.6,317.2h6M533.3,290.4h6M533.3,316.2h6M538.0,257.7h6M538.0,287.3h6M538.0,272.9h6M538.0,292.6h6M538.3,303.7h6M538.3,333.3h6M533.0,263.7h6M533.0,289.6h6M531.0,285.0h6M531.0,312.6h6M534.0,259.9h6M534.0,285.5h6M538.5,306.5h6M538.5,334.9h6M537.0,268.3h6M537.0,290.2h6M531.5,278.9h6M531.5,305.4h6M536.5,288.9h6M536.5,310.1h6M538.2,296.8h6M538.2,320.9h6M538.5,307.5h6M538.5,333.7h6M536.6,299.6h6M536.6,320.0h6M537.7,279.4h6M537.7,298.1h6M537.6,260.3h6M537.6,287.8h6M533.8,294.3h6M533.8,322.1h6M531.8,309.5h6M531.8,335.5h6M536.7,260.0h6M536.7,281.8h6M532.1,298.9h6M532.1,324.8h6M534.0,270.0h6M534.0,289.0h6M538.8,281.9h6M538.8,307.8h6M535.4,285.8h6M535.4,310.7h6M535.1,290.5h6M535.1,315.9h6M538.4,311.8h6M538.4,335.1h6M533.2,296.8h6M533.2,317.5h6M538.8,277.8h6M538.8,304.5h6M538.1,306.2h6M538.1,329.8h6M533.8,307.6h6M533.8,334.6h6M533.6,293.5h6M533.6,315.9h6M532.0,254.5h6M532.0,273.5h6M538.1,269.4h6M538.1,293.9h6M532.4,273.9h6M532.4,299.4h6M531.1,260.2h6M531.1,289.2h6M537.9,287.2h6M537.9,315.8h6M535.7,314.7h6M535.7,333.4h6M536.2,272.4h6M536.2,299.6h6M536.7,260.7h6M536.7,281.8h6M531.3,316.8h6M531.3,343.2h6M543.8,302.7h6M543.8,325.8h6M543.1,302.3h6M543.1,321.2h6M545.2,289.8h6M545.2,311.7h6M545.8,290.9h6M545.8,318.4h6M548.0,301.8h6M548.0,320.6h6M547.2,306.3h6M547.2,331.9h6M547.8,289.5h6M547.8,316.2h6M543.9,293.7h6M543.9,316.8h6M547.7,282.6h6M547.7,308.6h6M543.4,301.9h6M543.4,324.3h6M546.8,295.8h6M546.8,317.3h6M544.9,304.2h6M544.9,327.3h6M546.2,291.1h6M546.2,311.0h6M539.0,301.6h6M539.0,322.7h6M545.4,302.0h6M545.4,323.0h6M541.7,293.1h6M541.7,321.0h6M543.9,289.2h6M543.9,310.6h6M539.8,295.3h6M539.8,315.6h6M547.5,300.7h6M547.5,328.1h6M550.6,290.2h6M550.6,309.6h6M543.5,283.5h6M543.5,311.2h6M540.2,293.8h6M540.2,320.3h6M547.0,288.9h6M547.0,313.3h6M540.5,304.7h6M540.5,327.0h6M550.6,306.3h6M550.6,326.2h6M540.4,310.0h6M540.4,329.1h6M543.6,307.3h6M543.6,326.4h6M545.3,301.1h6M545.3,322.6h6M540.4,288.8h6M540.4,310.9h6M543.0,302.8h6M543.0,330.0h6M542.4,302.2h6M542.4,325.6h6M548.2,300.5h6M548.2,328.4h6M551.8,300.5h6M551.8,325.7h6M543.6,306.8h6M543.6,326.3h6M549.2,291.0h6M549.2,314.5h6M540.7,302.7h6M540.7,322.3h6M546.5,300.8h6M546.5,319.2h6M544.5,278.8h6M544.5,306.2h6M542.6,305.7h6M542.6,327.0h6M549.6,288.5h6M549.6,308.4h6M548.7,279.5h6M548.7,298.5h6M540.6,314.7h6M540.6,339.3h6M542.7,306.1h6M542.7,328.7h6M549.6,317.9h6M549.6,336.1h6M551.9,283.3h6M551.9,308.4h6M546.9,316.7h6M546.9,337.3h6M550.3,314.1h6M550.3,339.9h6M551.8,315.6h6M551.8,338.4h6M568.1,277.6h6M568.1,297.3h6M567.3,286.9h6M567.3,308.7h6M569.6,301.5h6M569.6,324.2h6M572.9,294.4h6M572.9,321.9h6M570.9,273.6h6M570.9,301.0h6M563.2,285.2h6M563.2,312.9h6M567.7,294.7h6M567.7,320.0h6M565.0,296.7h6M565.0,321.5h6M563.6,290.5h6M563.6,311.2h6M564.5,280.7h6M564.5,302.4h6M565.1,309.8h6M565.1,327.8h6M572.6,288.2h6M572.6,314.5h6M570.3,299.7h6M570.3,320.5h6M571.5,294.3h6M571.5,313.1h6M569.8,277.2h6M569.8,298.4h6M565.8,282.7h6M565.8,303.9h6M566.6,274.6h6M566.6,299.8h6M567.1,282.6h6M567.1,300.7h6M565.6,281.9h6M565.6,302.2h6M566.9,286.0h6M566.9,313.0h6M570.6,283.0h6M570.6,309.5h6M563.3,285.5h6M563.3,309.8h6M565.4,301.8h6M565.4,325.4h6M567.5,275.6h6M567.5,295.9h6M569.6,275.2h6M569.6,302.0h6M569.3,300.5h6M569.3,326.1h6M570.1,292.1h6M570.1,315.3h6M563.6,290.6h6M563.6,310.2h6M564.4,284.3h6M564.4,304.4h6M565.7,293.1h6M565.7,314.9h6M565.5,282.1h6M565.5,303.4h6M570.4,305.7h6M570.4,324.3h6M572.9,302.8h6M572.9,324.9h6M569.7,285.0h6M569.7,307.5h6M562.8,275.4h6M562.8,296.3h6M565.6,305.1h6M565.6,327.0h6M570.9,284.8h6M570.9,306.1h6M572.2,298.5h6M572.2,320.3h6M568.7,266.9h6M568.7,291.1h6M566.2,303.4h6M566.2,326.4h6M566.2,316.0h6M566.2,336.0h6M569.2,266.0h6M569.2,292.0h6M571.6,307.6h6M571.6,330.7h6M566.1,297.4h6M566.1,320.0h6M564.5,288.1h6M564.5,313.2h6M562.5,312.7h6M562.5,338.2h6M563.9,269.4h6M563.9,295.9h6M571.4,292.2h6M571.4,318.3h6M569.1,313.7h6M569.1,338.3h6M572.9,286.6h6M572.9,311.8h6M575.5,283.8h6M575.5,302.3h6M584.2,285.7h6M584.2,307.9h6M577.1,300.4h6M577.1,324.9h6M577.1,289.9h6M577.1,309.4h6M574.9,271.3h6M574.9,297.7h6M579.4,290.2h6M579.4,310.2h6M573.3,278.1h6M573.3,303.2h6M583.5,273.7h6M583.5,293.3h6M585.0,306.7h6M585.0,333.5h6M585.4,284.2h6M585.4,304.2h6M575.1,290.8h6M575.1,316.1h6M583.3,283.4h6M583.3,309.8h6M586.4,274.8h6M586.4,295.3h6M573.6,307.8h6M573.6,326.7h6M576.1,306.6h6M576.1,330.5h6M577.3,278.6h6M577.3,301.6h6M580.4,287.5h6M580.4,310.3h6M575.8,284.3h6M575.8,310.1h6M581.6,278.0h6M581.6,300.7h6M578.5,296.7h6M578.5,319.6h6M583.5,301.3h6M583.5,324.2h6M581.5,300.6h6M581.5,323.1h6M584.0,297.6h6M584.0,319.7h6M576.9,273.9h6M576.9,293.5h6M584.3,281.2h6M584.3,302.2h6M584.8,292.2h6M584.8,312.9h6M584.6,316.8h6M584.6,337.2h6M574.1,293.9h6M574.1,319.7h6M588.1,302.9h6M588.1,322.1h6M582.2,267.0h6M582.2,287.0h6M577.4,288.2h6M577.4,311.4h6M579.9,290.2h6M579.9,311.4h6M581.3,287.6h6M581.3,308.0h6M581.3,266.1h6M581.3,287.9h6M577.0,305.8h6M577.0,328.8h6M94.5,291.7h6M94.5,316.3h6M99.5,280.8h6M99.5,309.8h6M97.5,306.1h6M97.5,333.8h6M90.3,307.4h6M90.3,331.4h6M90.7,303.8h6M90.7,330.2h6M90.1,306.2h6M90.1,333.5h6M87.1,289.4h6M87.1,315.8h6M99.2,297.9h6M99.2,319.2h6M84.2,282.3h6M84.2,314.2h6M86.5,282.1h6M86.5,313.7h6M94.3,308.1h6M94.3,328.6h6M93.0,288.6h6M93.0,320.0h6M87.7,315.5h6M87.7,341.9h6M98.9,299.9h6M98.9,321.4h6M90.0,289.6h6M90.0,319.5h6M93.1,304.2h6M93.1,329.4h6M84.5,311.0h6M84.5,339.6h6M98.1,299.2h6M98.1,329.1h6M84.8,286.4h6M84.8,312.9h6M89.7,302.9h6M89.7,323.5h6M98.1,306.8h6M98.1,336.6h6M99.1,291.6h6M99.1,320.0h6M98.4,288.0h6M98.4,318.9h6M97.1,307.0h6M97.1,330.3h6M87.0,296.5h6M87.0,325.9h6M83.5,285.4h6M83.5,315.9h6M90.7,294.6h6M90.7,318.9h6M84.1,291.1h6M84.1,316.0h6M99.3,300.5h6M99.3,324.5h6M83.1,300.9h6M83.1,321.0h6M88.5,308.4h6M88.5,331.2h6M86.5,304.0h6M86.5,328.0h6M83.2,286.1h6M83.2,307.4h6M91.5,298.9h6M91.5,328.1h6M84.3,305.1h6M84.3,330.2h6M98.3,300.5h6M98.3,327.3h6M94.7,307.0h6M94.7,330.5h6M89.3,293.2h6M89.3,317.5h6M97.3,287.4h6M97.3,316.4h6M96.5,305.1h6M96.5,330.7h6M88.5,287.4h6M88.5,314.5h6M97.4,279.1h6M97.4,304.2h6M98.8,305.4h6M98.8,332.1h6M93.5,288.5h6M93.5,319.2h6M89.0,295.8h6M89.0,319.0h6M98.3,285.0h6M98.3,311.2h6M99.0,284.6h6M99.0,312.9h6M88.9,289.6h6M88.9,310.7h6M84.5,291.2h6M84.5,322.7h6M97.8,300.2h6M97.8,326.1h6M86.6,301.6h6M86.6,324.5h6M84.4,317.0h6M84.4,346.2h6M90.5,288.1h6M90.5,317.9h6M95.2,311.6h6M95.2,339.2h6M96.2,283.2h6M96.2,314.1h6M83.3,316.6h6M83.3,337.7h6M99.0,285.2h6M99.0,311.5h6M87.2,290.0h6M87.2,318.9h6M88.0,323.5h6M88.0,354.5h6M97.2,301.0h6M97.2,328.7h6M108.1,311.3h6M108.1,340.5h6M105.2,288.3h6M105.2,309.8h6M107.7,303.2h6M107.7,323.3h6M107.5,282.0h6M107.5,314.0h6M112.2,311.5h6M112.2,335.2h6M111.2,291.0h6M111.2,317.1h6M110.0,295.2h6M110.0,317.7h6M112.5,304.1h6M112.5,326.6h6M100.9,305.9h6M100.9,330.7h6M110.4,282.3h6M110.4,311.7h6M106.3,293.7h6M106.3,314.1h6M110.1,279.4h6M110.1,309.5h6M104.0,292.3h6M104.0,324.2h6M106.3,292.7h6M106.3,319.4h6M111.1,291.7h6M111.1,316.0h6M100.5,289.4h6M100.5,312.2h6M103.9,292.4h6M103.9,314.6h6M106.6,288.3h6M106.6,312.2h6M111.5,296.7h6M111.5,326.9h6M103.6,310.6h6M103.6,330.7h6M111.1,274.9h6M111.1,304.3h6M103.3,292.0h6M103.3,320.0h6M104.1,293.1h6M104.1,313.4h6M107.5,301.0h6M107.5,321.8h6M108.8,284.0h6M108.8,312.8h6M111.9,291.6h6M111.9,319.7h6M111.9,285.8h6M111.9,309.5h6M103.4,298.1h6M103.4,328.4h6M110.1,296.6h6M110.1,319.2h6M108.6,293.0h6M108.6,318.1h6M105.2,299.6h6M105.2,321.0h6M110.5,290.9h6M110.5,318.7h6M112.1,282.5h6M112.1,303.5h6M106.5,301.3h6M106.5,323.4h6M112.4,295.0h6M112.4,324.2h6M101.7,292.6h6M101.7,318.6h6M102.2,301.9h6M102.2,329.8h6M110.3,303.6h6M110.3,332.4h6M104.1,283.5h6M104.1,310.8h6M107.9,288.8h6M107.9,311.2h6M106.7,306.7h6M106.7,335.1h6M102.0,309.1h6M102.0,330.5h6M110.2,288.7h6M110.2,312.0h6M110.0,283.7h6M110.0,309.1h6M102.0,290.6h6M102.0,311.9h6M103.5,291.9h6M103.5,313.2h6M110.8,278.8h6M110.8,306.7h6M112.3,292.8h6M112.3,321.7h6M111.7,283.3h6M111.7,307.7h6M106.8,283.8h6M106.8,308.4h6M102.7,277.9h6M102.7,300.4h6M110.6,293.9h6M110.6,320.2h6M108.6,305.1h6M108.6,332.0h6M110.8,299.2h6M110.8,330.4h6M100.6,326.4h6M100.6,346.9h6M112.2,313.8h6M112.2,344.7h6M105.2,282.3h6M105.2,314.2h6M112.5,293.5h6M112.5,317.6h6M108.0,271.9h6M108.0,300.6h6M107.4,296.1h6M107.4,326.0h6M126.0,298.0h6M126.0,324.5h6M122.4,309.8h6M122.4,335.9h6M125.7,285.2h6M125.7,309.6h6M128.3,269.0h6M128.3,299.4h6M120.6,287.5h6M120.6,318.3h6M124.3,291.8h6M124.3,313.7h6M119.7,306.6h6M119.7,335.9h6M127.9,289.3h6M127.9,312.6h6M127.3,292.8h6M127.3,315.0h6M120.0,298.2h6M120.0,320.5h6M127.0,304.8h6M127.0,331.7h6M126.4,291.8h6M126.4,315.1h6M120.8,301.9h6M120.8,324.8h6M124.8,298.1h6M124.8,319.3h6M126.4,289.4h6M126.4,313.3h6M122.9,290.1h6M122.9,319.3h6M124.5,294.1h6M124.5,314.4h6M129.3,282.9h6M129.3,308.7h6M125.9,301.3h6M125.9,328.5h6M124.5,281.2h6M124.5,301.8h6M120.2,302.8h6M120.2,326.3h6M120.7,297.2h6M120.7,328.0h6M128.0,287.2h6M128.0,319.1h6M126.9,282.0h6M126.9,312.2h6M127.9,290.9h6M127.9,313.0h6M125.3,293.7h6M125.3,322.8h6M125.3,298.0h6M125.3,323.4h6M124.8,295.6h6M124.8,317.6h6M126.9,300.0h6M126.9,325.8h6M122.8,283.4h6M122.8,314.5h6M124.5,290.8h6M124.5,321.4h6M124.2,277.5h6M124.2,302.2h6M126.1,300.5h6M126.1,321.3h6M121.7,290.0h6M121.7,320.8h6M119.8,284.3h6M119.8,316.2h6M120.4,301.4h6M120.4,327.5h6M121.3,298.9h6M121.3,321.6h6M128.1,270.9h6M128.1,297.5h6M126.7,290.2h6M126.7,318.5h6M127.0,278.0h6M127.0,303.8h6M123.1,275.9h6M123.1,300.1h6M120.5,318.0h6M120.5,340.9h6M120.4,277.1h6M120.4,300.7h6M125.8,298.2h6M125.8,318.8h6M127.2,311.2h6M127.2,334.3h6M128.6,299.8h6M128.6,331.3h6M123.1,278.7h6M123.1,298.8h6M128.9,278.3h6M128.9,307.0h6M143.6,304.0h6M143.6,335.1h6M140.1,288.0h6M140.1,315.5h6M141.9,303.2h6M141.9,328.2h6M138.5,288.9h6M138.5,310.6h6M142.5,291.3h6M142.5,320.4h6M142.9,276.6h6M142.9,303.0h6M143.1,294.5h6M143.1,316.6h6M140.9,291.9h6M140.9,323.7h6M145.2,285.0h6M145.2,316.4h6M144.3,285.0h6M144.3,316.1h6M141.7,309.0h6M141.7,338.9h6M142.6,282.9h6M142.6,309.3h6M139.0,285.7h6M139.0,309.3h6M145.0,285.8h6M145.0,313.6h6M142.3,306.9h6M142.3,328.7h6M144.6,312.2h6M144.6,339.6h6M139.1,299.6h6M139.1,320.4h6M145.3,290.5h6M145.3,310.6h6M137.4,288.9h6M137.4,317.4h6M141.3,304.5h6M141.3,328.6h6M137.5,284.6h6M137.5,313.0h6M138.2,305.4h6M138.2,334.8h6M143.4,304.7h6M143.4,334.8h6M137.1,293.9h6M137.1,321.3h6M139.9,297.7h6M139.9,327.9h6M138.2,299.8h6M138.2,327.7h6M144.2,305.4h6M144.2,336.6h6M137.2,282.2h6M137.2,312.9h6M139.5,307.4h6M139.5,327.9h6M144.2,292.0h6M144.2,315.2h6M142.7,287.8h6M142.7,312.4h6M142.8,296.4h6M142.8,319.4h6M145.4,294.0h6M145.4,316.1h6M136.7,282.9h6M136.7,313.4h6M142.5,282.5h6M142.5,302.8h6M143.2,287.4h6M143.2,309.6h6M138.5,274.9h6M138.5,304.0h6M141.0,279.6h6M141.0,302.3h6M139.5,297.0h6M139.5,320.1h6M138.6,286.0h6M138.6,317.6h6M144.9,275.2h6M144.9,304.3h6M141.1,300.6h6M141.1,326.0h6M142.4,291.9h6M142.4,313.6h6M155.3,303.9h6M155.3,328.8h6M162.8,310.3h6M162.8,341.3h6M160.8,298.6h6M160.8,329.2h6M153.2,285.8h6M153.2,315.5h6M159.9,285.9h6M159.9,310.4h6M156.4,273.0h6M156.4,299.4h6M160.1,289.6h6M160.1,311.7h6M155.6,289.9h6M155.6,319.0h6M153.9,299.4h6M153.9,330.1h6M152.7,300.5h6M152.7,322.5h6M155.6,296.8h6M155.6,325.8h6M161.5,293.8h6M161.5,322.1h6M161.9,301.7h6M161.9,322.2h6M159.7,303.5h6M159.7,334.5h6M160.4,283.5h6M160.4,309.3h6M154.5,290.3h6M154.5,313.5h6M156.2,283.3h6M156.2,303.7h6M161.9,305.9h6M161.9,335.3h6M162.9,305.6h6M162.9,329.7h6M157.2,299.7h6M157.2,325.9h6M160.6,284.0h6M160.6,306.4h6M162.3,293.9h6M162.3,321.2h6M163.0,291.5h6M163.0,316.3h6M155.6,291.9h6M155.6,321.6h6M159.4,290.3h6M159.4,318.3h6M156.6,296.3h6M156.6,325.0h6M157.4,290.9h6M157.4,314.0h6M157.4,303.3h6M157.4,324.1h6M155.4,292.9h6M155.4,323.5h6M152.7,287.7h6M152.7,319.0h6M160.5,291.1h6M160.5,318.9h6M159.8,286.5h6M159.8,317.6h6M161.3,299.1h6M161.3,327.6h6M154.1,289.9h6M154.1,317.2h6M155.0,296.1h6M155.0,321.2h6M158.8,290.3h6M158.8,314.6h6M153.8,284.7h6M153.8,310.6h6M161.2,281.4h6M161.2,304.0h6M158.3,274.3h6M158.3,299.4h6M159.6,304.9h6M159.6,331.0h6M154.2,291.9h6M154.2,312.3h6M157.5,299.9h6M157.5,324.6h6M159.8,287.3h6M159.8,310.7h6M173.2,292.8h6M173.2,322.1h6M175.0,294.8h6M175.0,321.5h6M173.0,292.7h6M173.0,323.5h6M173.5,301.4h6M173.5,327.3h6M172.9,293.1h6M172.9,314.4h6M169.2,306.5h6M169.2,329.7h6M170.5,298.2h6M170.5,326.1h6M175.4,297.1h6M175.4,321.7h6M176.4,295.8h6M176.4,320.9h6M168.4,300.3h6M168.4,325.1h6M166.6,306.0h6M166.6,328.3h6M176.6,305.9h6M176.6,327.1h6M175.5,301.1h6M175.5,321.7h6M172.9,301.9h6M172.9,329.9h6M175.1,297.1h6M175.1,321.0h6M172.7,306.5h6M172.7,332.0h6M176.0,292.1h6M176.0,323.4h6M169.1,275.6h6M169.1,303.1h6M171.2,305.2h6M171.2,334.9h6M173.5,294.4h6M173.5,323.5h6M168.8,281.7h6M168.8,313.2h6M174.0,295.8h6M174.0,316.6h6M169.3,287.7h6M169.3,312.4h6M174.0,311.2h6M174.0,342.6h6M174.9,299.7h6M174.9,325.3h6M171.0,278.2h6M171.0,309.6h6M176.9,301.8h6M176.9,324.0h6M173.1,294.0h6M173.1,314.8h6M174.4,309.9h6M174.4,340.6h6M166.7,286.1h6M166.7,311.0h6M167.7,275.2h6M167.7,301.2h6M174.0,293.0h6M174.0,324.2h6M176.4,293.6h6M176.4,316.2h6M173.1,288.4h6M173.1,320.1h6M176.1,276.3h6M176.1,301.1h6M167.1,300.4h6M167.1,323.3h6M174.2,314.5h6M174.2,337.3h6M177.0,303.4h6M177.0,329.6h6M172.4,285.6h6M172.4,311.2h6M168.4,304.2h6M168.4,334.8h6M172.9,289.4h6M172.9,310.0h6M169.5,268.8h6M169.5,289.3h6M171.9,329.1h6M171.9,350.9h6M583.0,321.0h6M583.0,357.0h6M581.5,311.0h6M581.5,341.0h6M102.0,322.5h6M102.0,350.5h6M107.5,318.5h6M107.5,348.5h6M122.5,315.5h6M122.5,345.5h6M127.0,317.6h6M127.0,347.6h6M139.0,319.5h6M139.0,353.5h6M145.0,319.6h6M145.0,355.6h6M143.5,321.0h6M143.5,353.0h6M154.0,311.5h6M154.0,355.5h6M167.5,319.5h6M167.5,347.5h6M215.5,316.0h6M215.5,344.0h6M221.5,312.4h6M221.5,344.4h6M100.3,261.7h6M100.3,287.7h6M104.6,257.5h6M104.6,285.5h6M114.3,259.6h6M114.3,285.6h6M119.6,268.0h6M119.6,292.0h6M122.9,258.6h6M122.9,286.6h6M136.3,266.7h6M136.3,294.7h6M152.4,269.8h6M152.4,295.8h6M159.7,272.3h6M159.7,296.3h6M167.0,273.7h6M167.0,297.7h6M183.6,282.4h6M183.6,318.4h6M184.7,290.0h6M184.7,320.0h6M189.2,284.2h6M189.2,308.2h6M189.2,297.3h6M189.2,321.3h6M196.2,274.2h6M196.2,296.2h6M196.2,278.4h6M196.2,300.4h6M199.5,283.2h6M199.5,309.2h6M205.1,289.7h6M205.1,309.7h6M214.5,287.2h6M214.5,311.2h6M218.0,270.8h6M218.0,294.8h6M216.0,291.0h6M216.0,319.0h6M218.0,298.0h6M218.0,326.0h6M220.0,306.0h6M220.0,334.0h6M222.0,286.0h6M222.0,314.0h6M215.0,304.0h6M215.0,332.0h6M217.0,316.0h6M217.0,344.0h6M221.0,315.0h6M221.0,343.0h6M219.0,281.0h6M219.0,309.0h6M231.0,290.3h6M231.0,314.3h6M231.6,302.0h6M231.6,326.0h6M238.0,278.0h6M238.0,310.0h6M245.7,285.5h6M245.7,311.5h6M362.5,126.4h6M362.5,136.4h6M365.8,125.7h6M365.8,138.9h6M376.4,165.8h6M376.4,176.8h6M379.2,180.2h6M379.2,192.2h6M381.1,182.5h6M381.1,194.1h6M384.5,203.2h6M384.5,217.2h6M387.0,206.0h6M387.0,219.0h6M390.4,208.5h6M390.4,219.5h6M500.5,250.5h6M500.5,285.5h6M532.5,252.5h6M532.5,286.5h6M536.5,247.3h6M536.5,271.3h6M564.5,245.0h6M564.5,275.0h6M581.0,259.5h6M581.0,289.5h6M458.0,253.0h6M458.0,277.0h6M490.0,256.0h6M490.0,276.0h6M545.8,270.0h6M545.8,288.0h6M429.3,280.2h6M429.3,303.2h6M393.6,222.0h6M393.6,238.0h6M396.4,221.1h6M396.4,235.1h6M398.2,238.1h6M398.2,254.1h6M398.7,238.6h6M398.7,253.6h6M407.3,254.3h6M407.3,272.3h6M447.0,237.5h6M447.0,255.5h6M480.4,319.2h6M480.4,341.2h6M512.0,320.8h6M512.0,348.8h6M557.0,295.9h6M557.0,326.9h6" stroke="#000" stroke-width="1" fill="none"/>
<g fill="#000"><circle cx="419.9" cy="263.2" r="2.7"/><circle cx="422.5" cy="270.6" r="2.7"/><circle cx="421.4" cy="266.1" r="2.7"/><circle cx="416.1" cy="270.2" r="2.7"/><circle cx="416.9" cy="267.7" r="2.7"/><circle cx="422.3" cy="268.9" r="2.7"/><circle cx="414.1" cy="261.1" r="2.7"/><circle cx="421.8" cy="266.5" r="2.7"/><circle cx="421.6" cy="266.1" r="2.7"/><circle cx="418.4" cy="270.5" r="2.7"/><circle cx="416.9" cy="264.3" r="2.7"/><circle cx="416.6" cy="267.2" r="2.7"/><circle cx="416.4" cy="260.7" r="2.7"/><circle cx="418.2" cy="264.7" r="2.7"/><circle cx="418.8" cy="263.9" r="2.7"/><circle cx="419.3" cy="261.8" r="2.7"/><circle cx="423.5" cy="269.8" r="2.7"/><circle cx="421.5" cy="264.6" r="2.7"/><circle cx="419.9" cy="271.7" r="2.7"/><circle cx="423.4" cy="267.1" r="2.7"/><circle cx="416.0" cy="267.3" r="2.7"/><circle cx="415.5" cy="267.7" r="2.7"/><circle cx="419.8" cy="268.1" r="2.7"/><circle cx="414.4" cy="261.8" r="2.7"/><circle cx="414.3" cy="265.3" r="2.7"/><circle cx="418.9" cy="262.9" r="2.7"/><circle cx="418.4" cy="264.8" r="2.7"/><circle cx="422.7" cy="261.2" r="2.7"/><circle cx="420.0" cy="271.6" r="2.7"/><circle cx="418.9" cy="262.6" r="2.7"/><circle cx="418.7" cy="259.1" r="2.7"/><circle cx="416.4" cy="271.6" r="2.7"/><circle cx="414.1" cy="254.0" r="2.7"/><circle cx="415.8" cy="262.0" r="2.7"/><circle cx="420.6" cy="265.2" r="2.7"/><circle cx="415.9" cy="276.9" r="2.7"/><circle cx="417.5" cy="272.0" r="2.7"/><circle cx="414.0" cy="263.2" r="2.7"/><circle cx="421.9" cy="262.8" r="2.7"/><circle cx="415.5" cy="263.8" r="2.7"/><circle cx="423.6" cy="266.8" r="2.7"/><circle cx="428.5" cy="264.7" r="2.7"/><circle cx="429.8" cy="267.0" r="2.7"/><circle cx="427.6" cy="276.8" r="2.7"/><circle cx="429.3" cy="275.8" r="2.7"/><circle cx="425.3" cy="265.6" r="2.7"/><circle cx="425.1" cy="272.5" r="2.7"/><circle cx="426.4" cy="270.7" r="2.7"/><circle cx="424.9" cy="272.3" r="2.7"/><circle cx="426.3" cy="273.2" r="2.7"/><circle cx="431.1" cy="268.3" r="2.7"/><circle cx="428.1" cy="277.5" r="2.7"/><circle cx="426.2" cy="270.5" r="2.7"/><circle cx="425.7" cy="272.8" r="2.7"/><circle cx="431.1" cy="272.9" r="2.7"/><circle cx="427.1" cy="266.6" r="2.7"/><circle cx="431.3" cy="264.9" r="2.7"/><circle cx="427.6" cy="269.8" r="2.7"/><circle cx="427.7" cy="274.7" r="2.7"/><circle cx="430.7" cy="275.4" r="2.7"/><circle cx="429.4" cy="274.2" r="2.7"/><circle cx="428.1" cy="265.6" r="2.7"/><circle cx="426.9" cy="276.8" r="2.7"/><circle cx="430.5" cy="275.2" r="2.7"/><circle cx="426.8" cy="276.3" r="2.7"/><circle cx="430.9" cy="271.3" r="2.7"/><circle cx="424.0" cy="276.8" r="2.7"/><circle cx="426.9" cy="264.7" r="2.7"/><circle cx="427.7" cy="268.2" r="2.7"/><circle cx="431.1" cy="269.6" r="2.7"/><circle cx="425.5" cy="271.2" r="2.7"/><circle cx="429.9" cy="282.0" r="2.7"/><circle cx="428.9" cy="277.4" r="2.7"/><circle cx="429.2" cy="274.6" r="2.7"/><circle cx="428.5" cy="265.7" r="2.7"/><circle cx="431.3" cy="258.1" r="2.7"/><circle cx="426.2" cy="279.9" r="2.7"/><circle cx="426.7" cy="280.0" r="2.7"/><circle cx="441.8" cy="294.6" r="2.7"/><circle cx="440.7" cy="290.9" r="2.7"/><circle cx="445.8" cy="283.3" r="2.7"/><circle cx="442.3" cy="275.6" r="2.7"/><circle cx="445.1" cy="287.0" r="2.7"/><circle cx="448.2" cy="292.9" r="2.7"/><circle cx="443.6" cy="278.8" r="2.7"/><circle cx="442.6" cy="280.7" r="2.7"/><circle cx="444.2" cy="287.4" r="2.7"/><circle cx="445.9" cy="292.7" r="2.7"/><circle cx="441.3" cy="296.4" r="2.7"/><circle cx="443.6" cy="277.1" r="2.7"/><circle cx="441.6" cy="278.6" r="2.7"/><circle cx="445.9" cy="294.0" r="2.7"/><circle cx="447.3" cy="290.1" r="2.7"/><circle cx="443.6" cy="292.0" r="2.7"/><circle cx="443.5" cy="298.9" r="2.7"/><circle cx="444.9" cy="297.5" r="2.7"/><circle cx="442.3" cy="295.1" r="2.7"/><circle cx="442.5" cy="293.4" r="2.7"/><circle cx="443.2" cy="283.9" r="2.7"/><circle cx="444.3" cy="290.0" r="2.7"/><circle cx="441.2" cy="278.6" r="2.7"/><circle cx="446.7" cy="293.0" r="2.7"/><circle cx="445.2" cy="292.9" r="2.7"/><circle cx="443.0" cy="292.0" r="2.7"/><circle cx="441.1" cy="285.1" r="2.7"/><circle cx="446.8" cy="283.5" r="2.7"/><circle cx="441.6" cy="284.5" r="2.7"/><circle cx="441.6" cy="274.8" r="2.7"/><circle cx="441.6" cy="295.1" r="2.7"/><circle cx="441.2" cy="287.6" r="2.7"/><circle cx="447.9" cy="283.7" r="2.7"/><circle cx="442.7" cy="282.0" r="2.7"/><circle cx="443.0" cy="272.1" r="2.7"/><circle cx="447.3" cy="285.6" r="2.7"/><circle cx="445.6" cy="297.9" r="2.7"/><circle cx="442.0" cy="281.4" r="2.7"/><circle cx="444.1" cy="283.5" r="2.7"/><circle cx="447.7" cy="283.6" r="2.7"/><circle cx="443.6" cy="287.9" r="2.7"/><circle cx="446.3" cy="268.0" r="2.7"/><circle cx="441.3" cy="283.4" r="2.7"/><circle cx="446.5" cy="275.4" r="2.7"/><circle cx="446.9" cy="298.0" r="2.7"/><circle cx="451.5" cy="276.0" r="2.7"/><circle cx="450.9" cy="297.3" r="2.7"/><circle cx="450.5" cy="282.1" r="2.7"/><circle cx="464.2" cy="281.0" r="2.7"/><circle cx="463.6" cy="309.0" r="2.7"/><circle cx="452.3" cy="281.1" r="2.7"/><circle cx="464.0" cy="291.6" r="2.7"/><circle cx="452.0" cy="303.8" r="2.7"/><circle cx="456.7" cy="302.0" r="2.7"/><circle cx="456.6" cy="295.7" r="2.7"/><circle cx="463.2" cy="306.1" r="2.7"/><circle cx="449.3" cy="292.1" r="2.7"/><circle cx="453.7" cy="298.4" r="2.7"/><circle cx="458.2" cy="306.6" r="2.7"/><circle cx="449.7" cy="300.8" r="2.7"/><circle cx="452.4" cy="299.3" r="2.7"/><circle cx="456.0" cy="289.7" r="2.7"/><circle cx="462.6" cy="295.9" r="2.7"/><circle cx="460.7" cy="289.2" r="2.7"/><circle cx="461.8" cy="303.5" r="2.7"/><circle cx="460.7" cy="288.6" r="2.7"/><circle cx="459.9" cy="292.1" r="2.7"/><circle cx="462.1" cy="304.0" r="2.7"/><circle cx="459.5" cy="293.6" r="2.7"/><circle cx="460.3" cy="286.9" r="2.7"/><circle cx="453.5" cy="306.9" r="2.7"/><circle cx="451.3" cy="288.6" r="2.7"/><circle cx="460.7" cy="307.6" r="2.7"/><circle cx="451.3" cy="305.2" r="2.7"/><circle cx="463.2" cy="291.3" r="2.7"/><circle cx="458.1" cy="302.2" r="2.7"/><circle cx="453.9" cy="274.4" r="2.7"/><circle cx="463.5" cy="289.0" r="2.7"/><circle cx="451.2" cy="308.3" r="2.7"/><circle cx="456.8" cy="296.8" r="2.7"/><circle cx="450.1" cy="295.9" r="2.7"/><circle cx="464.0" cy="300.3" r="2.7"/><circle cx="457.8" cy="300.8" r="2.7"/><circle cx="461.4" cy="296.9" r="2.7"/><circle cx="453.2" cy="290.2" r="2.7"/><circle cx="461.4" cy="280.5" r="2.7"/><circle cx="459.8" cy="285.0" r="2.7"/><circle cx="458.9" cy="285.0" r="2.7"/><circle cx="463.7" cy="290.7" r="2.7"/><circle cx="455.5" cy="314.0" r="2.7"/><circle cx="455.3" cy="287.5" r="2.7"/><circle cx="459.6" cy="291.3" r="2.7"/><circle cx="461.9" cy="288.2" r="2.7"/><circle cx="454.0" cy="296.8" r="2.7"/><circle cx="459.3" cy="311.9" r="2.7"/><circle cx="452.0" cy="309.5" r="2.7"/><circle cx="457.4" cy="288.5" r="2.7"/><circle cx="460.9" cy="296.4" r="2.7"/><circle cx="449.7" cy="294.4" r="2.7"/><circle cx="460.2" cy="320.0" r="2.7"/><circle cx="448.9" cy="274.5" r="2.7"/><circle cx="463.8" cy="267.0" r="2.7"/><circle cx="456.1" cy="274.9" r="2.7"/><circle cx="455.2" cy="269.0" r="2.7"/><circle cx="460.1" cy="307.2" r="2.7"/><circle cx="457.0" cy="308.5" r="2.7"/><circle cx="460.2" cy="275.9" r="2.7"/><circle cx="450.0" cy="268.0" r="2.7"/><circle cx="457.6" cy="287.0" r="2.7"/><circle cx="457.5" cy="319.0" r="2.7"/><circle cx="463.4" cy="267.0" r="2.7"/><circle cx="449.3" cy="303.2" r="2.7"/><circle cx="455.9" cy="273.8" r="2.7"/><circle cx="458.7" cy="312.6" r="2.7"/><circle cx="457.4" cy="273.7" r="2.7"/><circle cx="493.2" cy="306.8" r="2.7"/><circle cx="473.9" cy="295.5" r="2.7"/><circle cx="478.9" cy="295.0" r="2.7"/><circle cx="471.8" cy="312.0" r="2.7"/><circle cx="491.8" cy="290.6" r="2.7"/><circle cx="493.9" cy="281.4" r="2.7"/><circle cx="495.7" cy="292.9" r="2.7"/><circle cx="486.3" cy="285.1" r="2.7"/><circle cx="487.6" cy="282.7" r="2.7"/><circle cx="488.0" cy="298.7" r="2.7"/><circle cx="485.3" cy="311.5" r="2.7"/><circle cx="494.8" cy="299.1" r="2.7"/><circle cx="486.2" cy="301.4" r="2.7"/><circle cx="479.4" cy="290.7" r="2.7"/><circle cx="483.8" cy="298.8" r="2.7"/><circle cx="471.5" cy="304.8" r="2.7"/><circle cx="489.1" cy="299.4" r="2.7"/><circle cx="488.3" cy="306.5" r="2.7"/><circle cx="481.5" cy="298.2" r="2.7"/><circle cx="492.3" cy="286.5" r="2.7"/><circle cx="489.9" cy="299.2" r="2.7"/><circle cx="479.4" cy="296.2" r="2.7"/><circle cx="472.9" cy="285.5" r="2.7"/><circle cx="474.3" cy="300.4" r="2.7"/><circle cx="475.6" cy="307.0" r="2.7"/><circle cx="478.6" cy="284.5" r="2.7"/><circle cx="482.2" cy="298.0" r="2.7"/><circle cx="494.2" cy="304.2" r="2.7"/><circle cx="478.0" cy="293.3" r="2.7"/><circle cx="493.5" cy="288.9" r="2.7"/><circle cx="488.0" cy="292.3" r="2.7"/><circle cx="492.3" cy="297.9" r="2.7"/><circle cx="481.1" cy="302.7" r="2.7"/><circle cx="471.1" cy="298.5" r="2.7"/><circle cx="490.7" cy="283.5" r="2.7"/><circle cx="477.1" cy="307.0" r="2.7"/><circle cx="474.6" cy="310.5" r="2.7"/><circle cx="491.0" cy="283.3" r="2.7"/><circle cx="488.2" cy="288.2" r="2.7"/><circle cx="476.3" cy="285.7" r="2.7"/><circle cx="477.7" cy="308.0" r="2.7"/><circle cx="494.5" cy="310.0" r="2.7"/><circle cx="477.7" cy="281.5" r="2.7"/><circle cx="488.6" cy="291.0" r="2.7"/><circle cx="474.2" cy="286.4" r="2.7"/><circle cx="491.4" cy="295.5" r="2.7"/><circle cx="473.9" cy="310.4" r="2.7"/><circle cx="483.9" cy="282.3" r="2.7"/><circle cx="471.9" cy="285.7" r="2.7"/><circle cx="484.8" cy="296.1" r="2.7"/><circle cx="492.2" cy="297.3" r="2.7"/><circle cx="473.1" cy="304.6" r="2.7"/><circle cx="477.9" cy="294.4" r="2.7"/><circle cx="490.1" cy="284.7" r="2.7"/><circle cx="486.2" cy="291.7" r="2.7"/><circle cx="478.8" cy="312.4" r="2.7"/><circle cx="486.7" cy="304.8" r="2.7"/><circle cx="482.4" cy="283.8" r="2.7"/><circle cx="492.6" cy="306.7" r="2.7"/><circle cx="478.3" cy="290.3" r="2.7"/><circle cx="489.9" cy="305.8" r="2.7"/><circle cx="486.9" cy="280.4" r="2.7"/><circle cx="489.5" cy="308.8" r="2.7"/><circle cx="480.5" cy="285.4" r="2.7"/><circle cx="489.1" cy="295.0" r="2.7"/><circle cx="488.5" cy="301.8" r="2.7"/><circle cx="480.7" cy="296.8" r="2.7"/><circle cx="471.7" cy="285.5" r="2.7"/><circle cx="495.1" cy="284.6" r="2.7"/><circle cx="488.8" cy="289.4" r="2.7"/><circle cx="476.1" cy="281.7" r="2.7"/><circle cx="489.3" cy="287.1" r="2.7"/><circle cx="478.0" cy="284.3" r="2.7"/><circle cx="482.7" cy="295.3" r="2.7"/><circle cx="492.5" cy="291.8" r="2.7"/><circle cx="482.2" cy="299.4" r="2.7"/><circle cx="478.2" cy="289.3" r="2.7"/><circle cx="478.6" cy="281.1" r="2.7"/><circle cx="472.9" cy="319.0" r="2.7"/><circle cx="476.5" cy="295.6" r="2.7"/><circle cx="477.8" cy="295.4" r="2.7"/><circle cx="475.3" cy="291.9" r="2.7"/><circle cx="472.6" cy="297.9" r="2.7"/><circle cx="482.6" cy="289.7" r="2.7"/><circle cx="476.4" cy="295.2" r="2.7"/><circle cx="489.5" cy="279.5" r="2.7"/><circle cx="494.1" cy="290.6" r="2.7"/><circle cx="477.8" cy="319.0" r="2.7"/><circle cx="485.3" cy="295.4" r="2.7"/><circle cx="483.7" cy="292.8" r="2.7"/><circle cx="472.9" cy="304.8" r="2.7"/><circle cx="474.1" cy="307.6" r="2.7"/><circle cx="493.1" cy="279.1" r="2.7"/><circle cx="482.9" cy="293.3" r="2.7"/><circle cx="491.1" cy="310.9" r="2.7"/><circle cx="472.7" cy="300.7" r="2.7"/><circle cx="485.9" cy="298.4" r="2.7"/><circle cx="492.6" cy="319.0" r="2.7"/><circle cx="492.7" cy="285.9" r="2.7"/><circle cx="471.1" cy="297.8" r="2.7"/><circle cx="484.0" cy="288.4" r="2.7"/><circle cx="480.2" cy="319.0" r="2.7"/><circle cx="490.0" cy="274.0" r="2.7"/><circle cx="472.8" cy="286.0" r="2.7"/><circle cx="477.6" cy="288.2" r="2.7"/><circle cx="519.7" cy="310.7" r="2.7"/><circle cx="516.6" cy="286.8" r="2.7"/><circle cx="518.3" cy="316.9" r="2.7"/><circle cx="505.9" cy="287.7" r="2.7"/><circle cx="509.7" cy="313.0" r="2.7"/><circle cx="517.5" cy="313.4" r="2.7"/><circle cx="526.4" cy="303.6" r="2.7"/><circle cx="523.1" cy="299.8" r="2.7"/><circle cx="518.9" cy="287.6" r="2.7"/><circle cx="516.0" cy="299.7" r="2.7"/><circle cx="503.9" cy="291.0" r="2.7"/><circle cx="524.9" cy="284.8" r="2.7"/><circle cx="505.1" cy="284.9" r="2.7"/><circle cx="506.6" cy="310.4" r="2.7"/><circle cx="520.1" cy="315.1" r="2.7"/><circle cx="523.0" cy="285.4" r="2.7"/><circle cx="522.4" cy="280.5" r="2.7"/><circle cx="514.4" cy="290.0" r="2.7"/><circle cx="507.7" cy="285.1" r="2.7"/><circle cx="504.3" cy="287.2" r="2.7"/><circle cx="523.9" cy="302.2" r="2.7"/><circle cx="527.0" cy="296.0" r="2.7"/><circle cx="509.4" cy="296.3" r="2.7"/><circle cx="524.3" cy="287.8" r="2.7"/><circle cx="513.2" cy="305.3" r="2.7"/><circle cx="511.0" cy="291.0" r="2.7"/><circle cx="515.6" cy="295.2" r="2.7"/><circle cx="503.7" cy="297.6" r="2.7"/><circle cx="514.1" cy="314.4" r="2.7"/><circle cx="508.3" cy="289.4" r="2.7"/><circle cx="520.6" cy="307.3" r="2.7"/><circle cx="515.6" cy="291.8" r="2.7"/><circle cx="524.4" cy="314.0" r="2.7"/><circle cx="525.0" cy="295.0" r="2.7"/><circle cx="511.1" cy="299.2" r="2.7"/><circle cx="510.2" cy="313.3" r="2.7"/><circle cx="526.0" cy="305.6" r="2.7"/><circle cx="515.6" cy="283.6" r="2.7"/><circle cx="505.8" cy="285.2" r="2.7"/><circle cx="504.6" cy="317.6" r="2.7"/><circle cx="527.3" cy="281.1" r="2.7"/><circle cx="517.4" cy="291.4" r="2.7"/><circle cx="504.8" cy="316.4" r="2.7"/><circle cx="515.8" cy="280.6" r="2.7"/><circle cx="515.6" cy="286.1" r="2.7"/><circle cx="513.9" cy="288.1" r="2.7"/><circle cx="526.3" cy="283.3" r="2.7"/><circle cx="526.3" cy="297.9" r="2.7"/><circle cx="506.5" cy="302.5" r="2.7"/><circle cx="507.1" cy="292.1" r="2.7"/><circle cx="513.3" cy="284.1" r="2.7"/><circle cx="523.5" cy="310.8" r="2.7"/><circle cx="518.5" cy="310.6" r="2.7"/><circle cx="521.0" cy="301.4" r="2.7"/><circle cx="517.3" cy="285.2" r="2.7"/><circle cx="508.5" cy="300.6" r="2.7"/><circle cx="523.1" cy="303.9" r="2.7"/><circle cx="503.8" cy="296.3" r="2.7"/><circle cx="520.3" cy="312.8" r="2.7"/><circle cx="508.2" cy="294.8" r="2.7"/><circle cx="514.8" cy="299.4" r="2.7"/><circle cx="526.9" cy="284.3" r="2.7"/><circle cx="516.4" cy="301.4" r="2.7"/><circle cx="504.9" cy="309.1" r="2.7"/><circle cx="513.8" cy="307.8" r="2.7"/><circle cx="519.3" cy="289.8" r="2.7"/><circle cx="504.9" cy="317.7" r="2.7"/><circle cx="509.6" cy="307.4" r="2.7"/><circle cx="503.9" cy="296.1" r="2.7"/><circle cx="516.5" cy="295.8" r="2.7"/><circle cx="512.7" cy="309.6" r="2.7"/><circle cx="515.6" cy="286.7" r="2.7"/><circle cx="510.6" cy="304.3" r="2.7"/><circle cx="519.3" cy="307.3" r="2.7"/><circle cx="507.7" cy="299.6" r="2.7"/><circle cx="525.3" cy="324.0" r="2.7"/><circle cx="526.5" cy="318.8" r="2.7"/><circle cx="515.3" cy="279.8" r="2.7"/><circle cx="514.7" cy="283.9" r="2.7"/><circle cx="524.1" cy="292.0" r="2.7"/><circle cx="510.5" cy="316.4" r="2.7"/><circle cx="522.8" cy="284.8" r="2.7"/><circle cx="510.4" cy="287.0" r="2.7"/><circle cx="520.8" cy="314.3" r="2.7"/><circle cx="511.5" cy="314.0" r="2.7"/><circle cx="518.0" cy="292.5" r="2.7"/><circle cx="525.7" cy="279.6" r="2.7"/><circle cx="504.8" cy="274.0" r="2.7"/><circle cx="522.9" cy="286.9" r="2.7"/><circle cx="516.5" cy="274.0" r="2.7"/><circle cx="512.6" cy="312.0" r="2.7"/><circle cx="511.9" cy="288.1" r="2.7"/><circle cx="505.2" cy="307.3" r="2.7"/><circle cx="509.7" cy="324.0" r="2.7"/><circle cx="518.5" cy="319.3" r="2.7"/><circle cx="505.8" cy="279.0" r="2.7"/><circle cx="519.6" cy="314.1" r="2.7"/><circle cx="526.6" cy="319.1" r="2.7"/><circle cx="527.0" cy="286.1" r="2.7"/><circle cx="524.8" cy="282.5" r="2.7"/><circle cx="536.5" cy="275.0" r="2.7"/><circle cx="541.2" cy="297.0" r="2.7"/><circle cx="534.7" cy="272.7" r="2.7"/><circle cx="535.6" cy="297.2" r="2.7"/><circle cx="534.7" cy="309.8" r="2.7"/><circle cx="539.6" cy="305.5" r="2.7"/><circle cx="536.3" cy="303.3" r="2.7"/><circle cx="541.0" cy="272.5" r="2.7"/><circle cx="541.0" cy="282.8" r="2.7"/><circle cx="541.3" cy="318.5" r="2.7"/><circle cx="536.0" cy="276.7" r="2.7"/><circle cx="534.0" cy="298.8" r="2.7"/><circle cx="537.0" cy="272.7" r="2.7"/><circle cx="541.5" cy="320.7" r="2.7"/><circle cx="540.0" cy="279.3" r="2.7"/><circle cx="534.5" cy="292.1" r="2.7"/><circle cx="539.5" cy="299.5" r="2.7"/><circle cx="541.2" cy="308.8" r="2.7"/><circle cx="541.5" cy="320.6" r="2.7"/><circle cx="539.6" cy="309.8" r="2.7"/><circle cx="540.7" cy="288.8" r="2.7"/><circle cx="540.6" cy="274.1" r="2.7"/><circle cx="536.8" cy="308.2" r="2.7"/><circle cx="534.8" cy="322.5" r="2.7"/><circle cx="539.7" cy="270.9" r="2.7"/><circle cx="535.1" cy="311.8" r="2.7"/><circle cx="537.0" cy="279.5" r="2.7"/><circle cx="541.8" cy="294.8" r="2.7"/><circle cx="538.4" cy="298.2" r="2.7"/><circle cx="538.1" cy="303.2" r="2.7"/><circle cx="541.4" cy="323.4" r="2.7"/><circle cx="536.2" cy="307.1" r="2.7"/><circle cx="541.8" cy="291.2" r="2.7"/><circle cx="541.1" cy="318.0" r="2.7"/><circle cx="536.8" cy="321.1" r="2.7"/><circle cx="536.6" cy="304.7" r="2.7"/><circle cx="535.0" cy="264.0" r="2.7"/><circle cx="541.1" cy="281.7" r="2.7"/><circle cx="535.4" cy="286.7" r="2.7"/><circle cx="534.1" cy="274.7" r="2.7"/><circle cx="540.9" cy="301.5" r="2.7"/><circle cx="538.7" cy="324.0" r="2.7"/><circle cx="539.2" cy="286.0" r="2.7"/><circle cx="539.7" cy="271.3" r="2.7"/><circle cx="534.3" cy="330.0" r="2.7"/><circle cx="546.8" cy="314.3" r="2.7"/><circle cx="546.1" cy="311.8" r="2.7"/><circle cx="548.2" cy="300.8" r="2.7"/><circle cx="548.8" cy="304.6" r="2.7"/><circle cx="551.0" cy="311.2" r="2.7"/><circle cx="550.2" cy="319.1" r="2.7"/><circle cx="550.8" cy="302.8" r="2.7"/><circle cx="546.9" cy="305.3" r="2.7"/><circle cx="550.7" cy="295.6" r="2.7"/><circle cx="546.4" cy="313.1" r="2.7"/><circle cx="549.8" cy="306.5" r="2.7"/><circle cx="547.9" cy="315.7" r="2.7"/><circle cx="549.2" cy="301.1" r="2.7"/><circle cx="542.0" cy="312.2" r="2.7"/><circle cx="548.4" cy="312.5" r="2.7"/><circle cx="544.7" cy="307.1" r="2.7"/><circle cx="546.9" cy="299.9" r="2.7"/><circle cx="542.8" cy="305.5" r="2.7"/><circle cx="550.5" cy="314.4" r="2.7"/><circle cx="553.6" cy="299.9" r="2.7"/><circle cx="546.5" cy="297.3" r="2.7"/><circle cx="543.2" cy="307.0" r="2.7"/><circle cx="550.0" cy="301.1" r="2.7"/><circle cx="543.5" cy="315.8" r="2.7"/><circle cx="553.6" cy="316.2" r="2.7"/><circle cx="543.4" cy="319.6" r="2.7"/><circle cx="546.6" cy="316.8" r="2.7"/><circle cx="548.3" cy="311.8" r="2.7"/><circle cx="543.4" cy="299.9" r="2.7"/><circle cx="546.0" cy="316.4" r="2.7"/><circle cx="545.4" cy="313.9" r="2.7"/><circle cx="551.2" cy="314.4" r="2.7"/><circle cx="554.8" cy="313.1" r="2.7"/><circle cx="546.6" cy="316.6" r="2.7"/><circle cx="552.2" cy="302.7" r="2.7"/><circle cx="543.7" cy="312.5" r="2.7"/><circle cx="549.5" cy="310.0" r="2.7"/><circle cx="547.5" cy="292.5" r="2.7"/><circle cx="545.6" cy="316.4" r="2.7"/><circle cx="552.6" cy="298.5" r="2.7"/><circle cx="551.7" cy="289.0" r="2.7"/><circle cx="543.6" cy="327.0" r="2.7"/><circle cx="545.7" cy="317.4" r="2.7"/><circle cx="552.6" cy="327.0" r="2.7"/><circle cx="554.9" cy="295.8" r="2.7"/><circle cx="549.9" cy="327.0" r="2.7"/><circle cx="553.3" cy="327.0" r="2.7"/><circle cx="554.8" cy="327.0" r="2.7"/><circle cx="571.1" cy="287.4" r="2.7"/><circle cx="570.3" cy="297.8" r="2.7"/><circle cx="572.6" cy="312.8" r="2.7"/><circle cx="575.9" cy="308.1" r="2.7"/><circle cx="573.9" cy="287.3" r="2.7"/><circle cx="566.2" cy="299.1" r="2.7"/><circle cx="570.7" cy="307.3" r="2.7"/><circle cx="568.0" cy="309.1" r="2.7"/><circle cx="566.6" cy="300.8" r="2.7"/><circle cx="567.5" cy="291.6" r="2.7"/><circle cx="568.1" cy="318.8" r="2.7"/><circle cx="575.6" cy="301.3" r="2.7"/><circle cx="573.3" cy="310.1" r="2.7"/><circle cx="574.5" cy="303.7" r="2.7"/><circle cx="572.8" cy="287.8" r="2.7"/><circle cx="568.8" cy="293.3" r="2.7"/><circle cx="569.6" cy="287.2" r="2.7"/><circle cx="570.1" cy="291.7" r="2.7"/><circle cx="568.6" cy="292.0" r="2.7"/><circle cx="569.9" cy="299.5" r="2.7"/><circle cx="573.6" cy="296.3" r="2.7"/><circle cx="566.3" cy="297.7" r="2.7"/><circle cx="568.4" cy="313.6" r="2.7"/><circle cx="570.5" cy="285.7" r="2.7"/><circle cx="572.6" cy="288.6" r="2.7"/><circle cx="572.3" cy="313.3" r="2.7"/><circle cx="573.1" cy="303.7" r="2.7"/><circle cx="566.6" cy="300.4" r="2.7"/><circle cx="567.4" cy="294.4" r="2.7"/><circle cx="568.7" cy="304.0" r="2.7"/><circle cx="568.5" cy="292.8" r="2.7"/><circle cx="573.4" cy="315.0" r="2.7"/><circle cx="575.9" cy="313.8" r="2.7"/><circle cx="572.7" cy="296.3" r="2.7"/><circle cx="565.8" cy="285.9" r="2.7"/><circle cx="568.6" cy="316.1" r="2.7"/><circle cx="573.9" cy="295.5" r="2.7"/><circle cx="575.2" cy="309.4" r="2.7"/><circle cx="571.7" cy="279.0" r="2.7"/><circle cx="569.2" cy="314.9" r="2.7"/><circle cx="569.2" cy="326.0" r="2.7"/><circle cx="572.2" cy="279.0" r="2.7"/><circle cx="574.6" cy="319.2" r="2.7"/><circle cx="569.1" cy="308.7" r="2.7"/><circle cx="567.5" cy="300.6" r="2.7"/><circle cx="565.5" cy="325.5" r="2.7"/><circle cx="566.9" cy="282.7" r="2.7"/><circle cx="574.4" cy="305.2" r="2.7"/><circle cx="572.1" cy="326.0" r="2.7"/><circle cx="575.9" cy="299.2" r="2.7"/><circle cx="578.5" cy="293.1" r="2.7"/><circle cx="587.2" cy="296.8" r="2.7"/><circle cx="580.1" cy="312.7" r="2.7"/><circle cx="580.1" cy="299.6" r="2.7"/><circle cx="577.9" cy="284.5" r="2.7"/><circle cx="582.4" cy="300.2" r="2.7"/><circle cx="576.3" cy="290.7" r="2.7"/><circle cx="586.5" cy="283.5" r="2.7"/><circle cx="588.0" cy="320.1" r="2.7"/><circle cx="588.4" cy="294.2" r="2.7"/><circle cx="578.1" cy="303.4" r="2.7"/><circle cx="586.3" cy="296.6" r="2.7"/><circle cx="589.4" cy="285.0" r="2.7"/><circle cx="576.6" cy="317.2" r="2.7"/><circle cx="579.1" cy="318.6" r="2.7"/><circle cx="580.3" cy="290.1" r="2.7"/><circle cx="583.4" cy="298.9" r="2.7"/><circle cx="578.8" cy="297.2" r="2.7"/><circle cx="584.6" cy="289.4" r="2.7"/><circle cx="581.5" cy="308.1" r="2.7"/><circle cx="586.5" cy="312.7" r="2.7"/><circle cx="584.5" cy="311.9" r="2.7"/><circle cx="587.0" cy="308.7" r="2.7"/><circle cx="579.9" cy="283.7" r="2.7"/><circle cx="587.3" cy="291.7" r="2.7"/><circle cx="587.8" cy="302.6" r="2.7"/><circle cx="587.6" cy="327.0" r="2.7"/><circle cx="577.1" cy="306.8" r="2.7"/><circle cx="591.1" cy="312.5" r="2.7"/><circle cx="585.2" cy="277.0" r="2.7"/><circle cx="580.4" cy="299.8" r="2.7"/><circle cx="582.9" cy="300.8" r="2.7"/><circle cx="584.3" cy="297.8" r="2.7"/><circle cx="584.3" cy="277.0" r="2.7"/><circle cx="580.0" cy="317.3" r="2.7"/><circle cx="97.5" cy="304.0" r="2.7"/><circle cx="102.5" cy="295.3" r="2.7"/><circle cx="100.5" cy="320.0" r="2.7"/><circle cx="93.3" cy="319.4" r="2.7"/><circle cx="93.7" cy="317.0" r="2.7"/><circle cx="93.1" cy="319.8" r="2.7"/><circle cx="90.1" cy="302.6" r="2.7"/><circle cx="102.2" cy="308.6" r="2.7"/><circle cx="87.2" cy="298.2" r="2.7"/><circle cx="89.5" cy="297.9" r="2.7"/><circle cx="97.3" cy="318.3" r="2.7"/><circle cx="96.0" cy="304.3" r="2.7"/><circle cx="90.7" cy="328.7" r="2.7"/><circle cx="101.9" cy="310.6" r="2.7"/><circle cx="93.0" cy="304.6" r="2.7"/><circle cx="96.1" cy="316.8" r="2.7"/><circle cx="87.5" cy="325.3" r="2.7"/><circle cx="101.1" cy="314.1" r="2.7"/><circle cx="87.8" cy="299.7" r="2.7"/><circle cx="92.7" cy="313.2" r="2.7"/><circle cx="101.1" cy="321.7" r="2.7"/><circle cx="102.1" cy="305.8" r="2.7"/><circle cx="101.4" cy="303.4" r="2.7"/><circle cx="100.1" cy="318.6" r="2.7"/><circle cx="90.0" cy="311.2" r="2.7"/><circle cx="86.5" cy="300.6" r="2.7"/><circle cx="93.7" cy="306.8" r="2.7"/><circle cx="87.1" cy="303.6" r="2.7"/><circle cx="102.3" cy="312.5" r="2.7"/><circle cx="86.1" cy="310.9" r="2.7"/><circle cx="91.5" cy="319.8" r="2.7"/><circle cx="89.5" cy="316.0" r="2.7"/><circle cx="86.2" cy="296.7" r="2.7"/><circle cx="94.5" cy="313.5" r="2.7"/><circle cx="87.3" cy="317.6" r="2.7"/><circle cx="101.3" cy="313.9" r="2.7"/><circle cx="97.7" cy="318.8" r="2.7"/><circle cx="92.3" cy="305.3" r="2.7"/><circle cx="100.3" cy="301.9" r="2.7"/><circle cx="99.5" cy="317.9" r="2.7"/><circle cx="91.5" cy="300.9" r="2.7"/><circle cx="100.4" cy="291.6" r="2.7"/><circle cx="101.8" cy="318.7" r="2.7"/><circle cx="96.5" cy="303.8" r="2.7"/><circle cx="92.0" cy="307.4" r="2.7"/><circle cx="101.3" cy="298.1" r="2.7"/><circle cx="102.0" cy="298.7" r="2.7"/><circle cx="91.9" cy="300.2" r="2.7"/><circle cx="87.5" cy="306.9" r="2.7"/><circle cx="100.8" cy="313.1" r="2.7"/><circle cx="89.6" cy="313.1" r="2.7"/><circle cx="87.4" cy="331.6" r="2.7"/><circle cx="93.5" cy="303.0" r="2.7"/><circle cx="98.2" cy="325.4" r="2.7"/><circle cx="99.2" cy="298.6" r="2.7"/><circle cx="86.3" cy="327.2" r="2.7"/><circle cx="102.0" cy="298.3" r="2.7"/><circle cx="90.2" cy="304.5" r="2.7"/><circle cx="91.0" cy="339.0" r="2.7"/><circle cx="100.2" cy="314.8" r="2.7"/><circle cx="111.1" cy="325.9" r="2.7"/><circle cx="108.2" cy="299.1" r="2.7"/><circle cx="110.7" cy="313.2" r="2.7"/><circle cx="110.5" cy="298.0" r="2.7"/><circle cx="115.2" cy="323.4" r="2.7"/><circle cx="114.2" cy="304.0" r="2.7"/><circle cx="113.0" cy="306.5" r="2.7"/><circle cx="115.5" cy="315.3" r="2.7"/><circle cx="103.9" cy="318.3" r="2.7"/><circle cx="113.4" cy="297.0" r="2.7"/><circle cx="109.3" cy="303.9" r="2.7"/><circle cx="113.1" cy="294.4" r="2.7"/><circle cx="107.0" cy="308.2" r="2.7"/><circle cx="109.3" cy="306.1" r="2.7"/><circle cx="114.1" cy="303.9" r="2.7"/><circle cx="103.5" cy="300.8" r="2.7"/><circle cx="106.9" cy="303.5" r="2.7"/><circle cx="109.6" cy="300.3" r="2.7"/><circle cx="114.5" cy="311.8" r="2.7"/><circle cx="106.6" cy="320.6" r="2.7"/><circle cx="114.1" cy="289.6" r="2.7"/><circle cx="106.3" cy="306.0" r="2.7"/><circle cx="107.1" cy="303.2" r="2.7"/><circle cx="110.5" cy="311.4" r="2.7"/><circle cx="111.8" cy="298.4" r="2.7"/><circle cx="114.9" cy="305.7" r="2.7"/><circle cx="114.9" cy="297.6" r="2.7"/><circle cx="106.4" cy="313.3" r="2.7"/><circle cx="113.1" cy="307.9" r="2.7"/><circle cx="111.6" cy="305.5" r="2.7"/><circle cx="108.2" cy="310.3" r="2.7"/><circle cx="113.5" cy="304.8" r="2.7"/><circle cx="115.1" cy="293.0" r="2.7"/><circle cx="109.5" cy="312.4" r="2.7"/><circle cx="115.4" cy="309.6" r="2.7"/><circle cx="104.7" cy="305.6" r="2.7"/><circle cx="105.2" cy="315.9" r="2.7"/><circle cx="113.3" cy="318.0" r="2.7"/><circle cx="107.1" cy="297.2" r="2.7"/><circle cx="110.9" cy="300.0" r="2.7"/><circle cx="109.7" cy="320.9" r="2.7"/><circle cx="105.0" cy="319.8" r="2.7"/><circle cx="113.2" cy="300.4" r="2.7"/><circle cx="113.0" cy="296.4" r="2.7"/><circle cx="105.0" cy="301.3" r="2.7"/><circle cx="106.5" cy="302.5" r="2.7"/><circle cx="113.8" cy="292.7" r="2.7"/><circle cx="115.3" cy="307.3" r="2.7"/><circle cx="114.7" cy="295.5" r="2.7"/><circle cx="109.8" cy="296.1" r="2.7"/><circle cx="105.7" cy="289.1" r="2.7"/><circle cx="113.6" cy="307.1" r="2.7"/><circle cx="111.6" cy="318.6" r="2.7"/><circle cx="113.8" cy="314.8" r="2.7"/><circle cx="103.6" cy="336.6" r="2.7"/><circle cx="115.2" cy="329.2" r="2.7"/><circle cx="108.2" cy="298.3" r="2.7"/><circle cx="115.5" cy="305.6" r="2.7"/><circle cx="111.0" cy="286.2" r="2.7"/><circle cx="110.4" cy="311.0" r="2.7"/><circle cx="129.0" cy="311.3" r="2.7"/><circle cx="125.4" cy="322.9" r="2.7"/><circle cx="128.7" cy="297.4" r="2.7"/><circle cx="131.3" cy="284.2" r="2.7"/><circle cx="123.6" cy="302.9" r="2.7"/><circle cx="127.3" cy="302.7" r="2.7"/><circle cx="122.7" cy="321.2" r="2.7"/><circle cx="130.9" cy="301.0" r="2.7"/><circle cx="130.3" cy="303.9" r="2.7"/><circle cx="123.0" cy="309.3" r="2.7"/><circle cx="130.0" cy="318.3" r="2.7"/><circle cx="129.4" cy="303.4" r="2.7"/><circle cx="123.8" cy="313.4" r="2.7"/><circle cx="127.8" cy="308.7" r="2.7"/><circle cx="129.4" cy="301.3" r="2.7"/><circle cx="125.9" cy="304.7" r="2.7"/><circle cx="127.5" cy="304.3" r="2.7"/><circle cx="132.3" cy="295.8" r="2.7"/><circle cx="128.9" cy="314.9" r="2.7"/><circle cx="127.5" cy="291.5" r="2.7"/><circle cx="123.2" cy="314.5" r="2.7"/><circle cx="123.7" cy="312.6" r="2.7"/><circle cx="131.0" cy="303.2" r="2.7"/><circle cx="129.9" cy="297.1" r="2.7"/><circle cx="130.9" cy="302.0" r="2.7"/><circle cx="128.3" cy="308.3" r="2.7"/><circle cx="128.3" cy="310.7" r="2.7"/><circle cx="127.8" cy="306.6" r="2.7"/><circle cx="129.9" cy="312.9" r="2.7"/><circle cx="125.8" cy="299.0" r="2.7"/><circle cx="127.5" cy="306.1" r="2.7"/><circle cx="127.2" cy="289.9" r="2.7"/><circle cx="129.1" cy="310.9" r="2.7"/><circle cx="124.7" cy="305.4" r="2.7"/><circle cx="122.8" cy="300.3" r="2.7"/><circle cx="123.4" cy="314.5" r="2.7"/><circle cx="124.3" cy="310.2" r="2.7"/><circle cx="131.1" cy="284.2" r="2.7"/><circle cx="129.7" cy="304.4" r="2.7"/><circle cx="130.0" cy="290.9" r="2.7"/><circle cx="126.1" cy="288.0" r="2.7"/><circle cx="123.5" cy="329.5" r="2.7"/><circle cx="123.4" cy="288.9" r="2.7"/><circle cx="128.8" cy="308.5" r="2.7"/><circle cx="130.2" cy="322.8" r="2.7"/><circle cx="131.6" cy="315.6" r="2.7"/><circle cx="126.1" cy="288.8" r="2.7"/><circle cx="131.9" cy="292.6" r="2.7"/><circle cx="146.6" cy="319.5" r="2.7"/><circle cx="143.1" cy="301.7" r="2.7"/><circle cx="144.9" cy="315.7" r="2.7"/><circle cx="141.5" cy="299.8" r="2.7"/><circle cx="145.5" cy="305.8" r="2.7"/><circle cx="145.9" cy="289.8" r="2.7"/><circle cx="146.1" cy="305.6" r="2.7"/><circle cx="143.9" cy="307.8" r="2.7"/><circle cx="148.2" cy="300.7" r="2.7"/><circle cx="147.3" cy="300.5" r="2.7"/><circle cx="144.7" cy="324.0" r="2.7"/><circle cx="145.6" cy="296.1" r="2.7"/><circle cx="142.0" cy="297.5" r="2.7"/><circle cx="148.0" cy="299.7" r="2.7"/><circle cx="145.3" cy="317.8" r="2.7"/><circle cx="147.6" cy="325.9" r="2.7"/><circle cx="142.1" cy="310.0" r="2.7"/><circle cx="148.3" cy="300.5" r="2.7"/><circle cx="140.4" cy="303.2" r="2.7"/><circle cx="144.3" cy="316.6" r="2.7"/><circle cx="140.5" cy="298.8" r="2.7"/><circle cx="141.2" cy="320.1" r="2.7"/><circle cx="146.4" cy="319.7" r="2.7"/><circle cx="140.1" cy="307.6" r="2.7"/><circle cx="142.9" cy="312.8" r="2.7"/><circle cx="141.2" cy="313.7" r="2.7"/><circle cx="147.2" cy="321.0" r="2.7"/><circle cx="140.2" cy="297.5" r="2.7"/><circle cx="142.5" cy="317.6" r="2.7"/><circle cx="147.2" cy="303.6" r="2.7"/><circle cx="145.7" cy="300.1" r="2.7"/><circle cx="145.8" cy="307.9" r="2.7"/><circle cx="148.4" cy="305.1" r="2.7"/><circle cx="139.7" cy="298.1" r="2.7"/><circle cx="145.5" cy="292.6" r="2.7"/><circle cx="146.2" cy="298.5" r="2.7"/><circle cx="141.5" cy="289.5" r="2.7"/><circle cx="144.0" cy="291.0" r="2.7"/><circle cx="142.5" cy="308.6" r="2.7"/><circle cx="141.6" cy="301.8" r="2.7"/><circle cx="147.9" cy="289.8" r="2.7"/><circle cx="144.1" cy="313.3" r="2.7"/><circle cx="145.4" cy="302.7" r="2.7"/><circle cx="158.3" cy="316.4" r="2.7"/><circle cx="165.8" cy="325.8" r="2.7"/><circle cx="163.8" cy="313.9" r="2.7"/><circle cx="156.2" cy="300.7" r="2.7"/><circle cx="162.9" cy="298.2" r="2.7"/><circle cx="159.4" cy="286.2" r="2.7"/><circle cx="163.1" cy="300.6" r="2.7"/><circle cx="158.6" cy="304.4" r="2.7"/><circle cx="156.9" cy="314.7" r="2.7"/><circle cx="155.7" cy="311.5" r="2.7"/><circle cx="158.6" cy="311.3" r="2.7"/><circle cx="164.5" cy="307.9" r="2.7"/><circle cx="164.9" cy="311.9" r="2.7"/><circle cx="162.7" cy="319.0" r="2.7"/><circle cx="163.4" cy="296.4" r="2.7"/><circle cx="157.5" cy="301.9" r="2.7"/><circle cx="159.2" cy="293.5" r="2.7"/><circle cx="164.9" cy="320.6" r="2.7"/><circle cx="165.9" cy="317.7" r="2.7"/><circle cx="160.2" cy="312.8" r="2.7"/><circle cx="163.6" cy="295.2" r="2.7"/><circle cx="165.3" cy="307.6" r="2.7"/><circle cx="166.0" cy="303.9" r="2.7"/><circle cx="158.6" cy="306.7" r="2.7"/><circle cx="162.4" cy="304.3" r="2.7"/><circle cx="159.6" cy="310.7" r="2.7"/><circle cx="160.4" cy="302.4" r="2.7"/><circle cx="160.4" cy="313.7" r="2.7"/><circle cx="158.4" cy="308.2" r="2.7"/><circle cx="155.7" cy="303.4" r="2.7"/><circle cx="163.5" cy="305.0" r="2.7"/><circle cx="162.8" cy="302.0" r="2.7"/><circle cx="164.3" cy="313.3" r="2.7"/><circle cx="157.1" cy="303.6" r="2.7"/><circle cx="158.0" cy="308.7" r="2.7"/><circle cx="161.8" cy="302.5" r="2.7"/><circle cx="156.8" cy="297.7" r="2.7"/><circle cx="164.2" cy="292.7" r="2.7"/><circle cx="161.3" cy="286.9" r="2.7"/><circle cx="162.6" cy="318.0" r="2.7"/><circle cx="157.2" cy="302.1" r="2.7"/><circle cx="160.5" cy="312.2" r="2.7"/><circle cx="162.8" cy="299.0" r="2.7"/><circle cx="176.2" cy="307.5" r="2.7"/><circle cx="178.0" cy="308.2" r="2.7"/><circle cx="176.0" cy="308.1" r="2.7"/><circle cx="176.5" cy="314.4" r="2.7"/><circle cx="175.9" cy="303.8" r="2.7"/><circle cx="172.2" cy="318.1" r="2.7"/><circle cx="173.5" cy="312.1" r="2.7"/><circle cx="178.4" cy="309.4" r="2.7"/><circle cx="179.4" cy="308.4" r="2.7"/><circle cx="171.4" cy="312.7" r="2.7"/><circle cx="169.6" cy="317.1" r="2.7"/><circle cx="179.6" cy="316.5" r="2.7"/><circle cx="178.5" cy="311.4" r="2.7"/><circle cx="175.9" cy="315.9" r="2.7"/><circle cx="178.1" cy="309.1" r="2.7"/><circle cx="175.7" cy="319.3" r="2.7"/><circle cx="179.0" cy="307.8" r="2.7"/><circle cx="172.1" cy="289.3" r="2.7"/><circle cx="174.2" cy="320.0" r="2.7"/><circle cx="176.5" cy="309.0" r="2.7"/><circle cx="171.8" cy="297.5" r="2.7"/><circle cx="177.0" cy="306.2" r="2.7"/><circle cx="172.3" cy="300.0" r="2.7"/><circle cx="177.0" cy="326.9" r="2.7"/><circle cx="177.9" cy="312.5" r="2.7"/><circle cx="174.0" cy="293.9" r="2.7"/><circle cx="179.9" cy="312.9" r="2.7"/><circle cx="176.1" cy="304.4" r="2.7"/><circle cx="177.4" cy="325.3" r="2.7"/><circle cx="169.7" cy="298.5" r="2.7"/><circle cx="170.7" cy="288.2" r="2.7"/><circle cx="177.0" cy="308.6" r="2.7"/><circle cx="179.4" cy="304.9" r="2.7"/><circle cx="176.1" cy="304.3" r="2.7"/><circle cx="179.1" cy="288.7" r="2.7"/><circle cx="170.1" cy="311.8" r="2.7"/><circle cx="177.2" cy="325.9" r="2.7"/><circle cx="180.0" cy="316.5" r="2.7"/><circle cx="175.4" cy="298.4" r="2.7"/><circle cx="171.4" cy="319.5" r="2.7"/><circle cx="175.9" cy="299.7" r="2.7"/><circle cx="172.5" cy="279.0" r="2.7"/><circle cx="174.9" cy="340.0" r="2.7"/><circle cx="586.0" cy="339.0" r="2.7"/><circle cx="584.5" cy="326.0" r="2.7"/><circle cx="105.0" cy="336.5" r="2.7"/><circle cx="110.5" cy="333.5" r="2.7"/><circle cx="125.5" cy="330.5" r="2.7"/><circle cx="130.0" cy="332.6" r="2.7"/><circle cx="142.0" cy="336.5" r="2.7"/><circle cx="148.0" cy="337.6" r="2.7"/><circle cx="146.5" cy="337.0" r="2.7"/><circle cx="157.0" cy="333.5" r="2.7"/><circle cx="170.5" cy="333.5" r="2.7"/><circle cx="218.5" cy="330.0" r="2.7"/><circle cx="224.5" cy="328.4" r="2.7"/><circle cx="103.3" cy="274.7" r="2.7"/><circle cx="107.6" cy="271.5" r="2.7"/><circle cx="117.3" cy="272.6" r="2.7"/><circle cx="122.6" cy="280.0" r="2.7"/><circle cx="125.9" cy="272.6" r="2.7"/><circle cx="139.3" cy="280.7" r="2.7"/><circle cx="155.4" cy="282.8" r="2.7"/><circle cx="162.7" cy="284.3" r="2.7"/><circle cx="170.0" cy="285.7" r="2.7"/><circle cx="186.6" cy="300.4" r="2.7"/><circle cx="187.7" cy="305.0" r="2.7"/><circle cx="192.2" cy="296.2" r="2.7"/><circle cx="192.2" cy="309.3" r="2.7"/><circle cx="199.2" cy="285.2" r="2.7"/><circle cx="199.2" cy="289.4" r="2.7"/><circle cx="202.5" cy="296.2" r="2.7"/><circle cx="208.1" cy="299.7" r="2.7"/><circle cx="217.5" cy="299.2" r="2.7"/><circle cx="221.0" cy="282.8" r="2.7"/><circle cx="219.0" cy="305.0" r="2.7"/><circle cx="221.0" cy="312.0" r="2.7"/><circle cx="223.0" cy="320.0" r="2.7"/><circle cx="225.0" cy="300.0" r="2.7"/><circle cx="218.0" cy="318.0" r="2.7"/><circle cx="220.0" cy="330.0" r="2.7"/><circle cx="224.0" cy="329.0" r="2.7"/><circle cx="222.0" cy="295.0" r="2.7"/><circle cx="234.0" cy="302.3" r="2.7"/><circle cx="234.6" cy="314.0" r="2.7"/><circle cx="241.0" cy="294.0" r="2.7"/><circle cx="248.7" cy="298.5" r="2.7"/><circle cx="365.5" cy="131.4" r="2.7"/><circle cx="368.8" cy="132.3" r="2.7"/><circle cx="379.4" cy="171.3" r="2.7"/><circle cx="382.2" cy="186.2" r="2.7"/><circle cx="384.1" cy="188.3" r="2.7"/><circle cx="387.5" cy="210.2" r="2.7"/><circle cx="390.0" cy="212.5" r="2.7"/><circle cx="393.4" cy="214.0" r="2.7"/><circle cx="503.5" cy="268.0" r="2.7"/><circle cx="535.5" cy="269.5" r="2.7"/><circle cx="539.5" cy="259.3" r="2.7"/><circle cx="567.5" cy="260.0" r="2.7"/><circle cx="584.0" cy="274.5" r="2.7"/><circle cx="461.0" cy="265.0" r="2.7"/><circle cx="493.0" cy="266.0" r="2.7"/><circle cx="548.8" cy="279.0" r="2.7"/><circle cx="432.3" cy="291.7" r="2.7"/><circle cx="396.6" cy="230.0" r="2.7"/><circle cx="399.4" cy="228.1" r="2.7"/><circle cx="401.2" cy="246.1" r="2.7"/><circle cx="401.7" cy="246.1" r="2.7"/><circle cx="410.3" cy="263.3" r="2.7"/><circle cx="450.0" cy="246.5" r="2.7"/><circle cx="483.4" cy="330.2" r="2.7"/><circle cx="515.0" cy="334.8" r="2.7"/><circle cx="560.0" cy="311.4" r="2.7"/></g>
<polyline points="86.77,312.83 87.10,312.82 87.44,312.81 87.77,312.79 88.11,312.78 88.44,312.76 88.78,312.75 89.11,312.74 89.44,312.72 89.78,312.71 90.11,312.69 90.45,312.68 90.78,312.66 91.12,312.65 91.45,312.63 91.79,312.62 92.12,312.60 92.45,312.59 92.79,312.57 93.12,312.56 93.46,312.54 93.79,312.53 94.13,312.51 94.46,312.49 94.80,312.48 95.13,312.46 95.47,312.45 95.80,312.43 96.13,312.42 96.47,312.40 96.80,312.38 97.14,312.37 97.47,312.35 97.81,312.33 98.14,312.32 98.48,312.30 98.81,312.28 99.14,312.27 99.48,312.25 99.81,312.23 100.15,312.21 100.48,312.20 100.82,312.18 101.15,312.16 101.49,312.15 101.82,312.13 102.16,312.11 102.49,312.09 102.82,312.07 103.16,312.06 103.49,312.04 103.83,312.02 104.16,312.00 104.50,311.98 104.83,311.96 105.17,311.95 105.50,311.93 105.83,311.91 106.17,311.89 106.50,311.87 106.84,311.85 107.17,311.83 107.51,311.81 107.84,311.79 108.18,311.77 108.51,311.75 108.85,311.73 109.18,311.71 109.51,311.69 109.85,311.67 110.18,311.65 110.52,311.63 110.85,311.61 111.19,311.59 111.52,311.57 111.86,311.55 112.19,311.53 112.52,311.51 112.86,311.49 113.19,311.46 113.53,311.44 113.86,311.42 114.20,311.40 114.53,311.38 114.87,311.35 115.20,311.33 115.54,311.31 115.87,311.29 116.20,311.27 116.54,311.24 116.87,311.22 117.21,311.20 117.54,311.17 117.88,311.15 118.21,311.13 118.55,311.10 118.88,311.08 119.22,311.06 119.55,311.03 119.88,311.01 120.22,310.98 120.55,310.96 120.89,310.94 121.22,310.91 121.56,310.89 121.89,310.86 122.23,310.84 122.56,310.81 122.89,310.79 123.23,310.76 123.56,310.73 123.90,310.71 124.23,310.68 124.57,310.66 124.90,310.63 125.24,310.60 125.57,310.58 125.91,310.55 126.24,310.52 126.57,310.50 126.91,310.47 127.24,310.44 127.58,310.42 127.91,310.39 128.25,310.36 128.58,310.33 128.92,310.30 129.25,310.28 129.58,310.25 129.92,310.22 130.25,310.19 130.59,310.16 130.92,310.13 131.26,310.10 131.59,310.07 131.93,310.04 132.26,310.01 132.60,309.98 132.93,309.95 133.26,309.92 133.60,309.89 133.93,309.86 134.27,309.83 134.60,309.80 134.94,309.77 135.27,309.73 135.61,309.70 135.94,309.67 136.27,309.64 136.61,309.61 136.94,309.57 137.28,309.54 137.61,309.51 137.95,309.48 138.28,309.44 138.62,309.41 138.95,309.37 139.29,309.34 139.62,309.31 139.95,309.27 140.29,309.24 140.62,309.20 140.96,309.17 141.29,309.13 141.63,309.10 141.96,309.06 142.30,309.03 142.63,308.99 142.96,308.95 143.30,308.92 143.63,308.88 143.97,308.84 144.30,308.81 144.64,308.77 144.97,308.73 145.31,308.69 145.64,308.65 145.98,308.62 146.31,308.58 146.64,308.54 146.98,308.50 147.31,308.46 147.65,308.42 147.98,308.38 148.32,308.34 148.65,308.30 148.99,308.26 149.32,308.22 149.65,308.18 149.99,308.14 150.32,308.09 150.66,308.05 150.99,308.01 151.33,307.97 151.66,307.92 152.00,307.88 152.33,307.84 152.67,307.79 153.00,307.75 153.33,307.71 153.67,307.66 154.00,307.62 154.34,307.57 154.67,307.53 155.01,307.48 155.34,307.44 155.68,307.39 156.01,307.34 156.35,307.30 156.68,307.25 157.01,307.20 157.35,307.15 157.68,307.11 158.02,307.06 158.35,307.01 158.69,306.96 159.02,306.91 159.36,306.86 159.69,306.81 160.02,306.76 160.36,306.71 160.69,306.66 161.03,306.61 161.36,306.56 161.70,306.51 162.03,306.45 162.37,306.40 162.70,306.35 163.04,306.30 163.37,306.24 163.70,306.19 164.04,306.13 164.37,306.08 164.71,306.02 165.04,305.97 165.38,305.91 165.71,305.86 166.05,305.80 166.38,305.74 166.71,305.69 167.05,305.63 167.38,305.57 167.72,305.51 168.05,305.46 168.39,305.40 168.72,305.34 169.06,305.28 169.39,305.22 169.73,305.16 170.06,305.10 170.39,305.03 170.73,304.97 171.06,304.91 171.40,304.85 171.73,304.78 172.07,304.72 172.40,304.66 172.74,304.59 173.07,304.53 173.40,304.46 173.74,304.40 174.07,304.33 174.41,304.26 174.74,304.20 175.08,304.13 175.41,304.06 175.75,303.99 176.08,303.92 176.42,303.86 176.75,303.79 177.08,303.72 177.42,303.65 177.75,303.57 178.09,303.50 178.42,303.43 178.76,303.36 179.09,303.28 179.43,303.21 179.76,303.14 180.09,303.06 180.43,302.99 180.76,302.91 181.10,302.84 181.43,302.76 181.77,302.68 182.10,302.60 182.44,302.53 182.77,302.45 183.11,302.37 183.44,302.29 183.77,302.21 184.11,302.13 184.44,302.05 184.78,301.96 185.11,301.88 185.45,301.80 185.78,301.71 186.12,301.63 186.45,301.54 186.78,301.46 187.12,301.37 187.45,301.29 187.79,301.20 188.12,301.11 188.46,301.02 188.79,300.93 189.13,300.84 189.46,300.75 189.80,300.66 190.13,300.57 190.46,300.48 190.80,300.39 191.13,300.29 191.47,300.20 191.80,300.10 192.14,300.01 192.47,299.91 192.81,299.81 193.14,299.72 193.48,299.62 193.81,299.52 194.14,299.42 194.48,299.32 194.81,299.22 195.15,299.12 195.48,299.01 195.82,298.91 196.15,298.81 196.49,298.70 196.82,298.60 197.15,298.49 197.49,298.38 197.82,298.28 198.16,298.17 198.49,298.06 198.83,297.95 199.16,297.84 199.50,297.73 199.83,297.61 200.17,297.50 200.50,297.39 200.83,297.27 201.17,297.16 201.50,297.04 201.84,296.92 202.17,296.81 202.51,296.69 202.84,296.57 203.18,296.45 203.51,296.33 203.84,296.20 204.18,296.08 204.51,295.96 204.85,295.83 205.18,295.70 205.52,295.58 205.85,295.45 206.19,295.32 206.52,295.19 206.86,295.06 207.19,294.93 207.52,294.80 207.86,294.66 208.19,294.53 208.53,294.39 208.86,294.26 209.20,294.12 209.53,293.98 209.87,293.84 210.20,293.70 210.53,293.56 210.87,293.42 211.20,293.28 211.54,293.13 211.87,292.99 212.21,292.84 212.54,292.69 212.88,292.54 213.21,292.39 213.55,292.24 213.88,292.09 214.21,291.94 214.55,291.78 214.88,291.63 215.22,291.47 215.55,291.31 215.89,291.15 216.22,290.99 216.56,290.83 216.89,290.67 217.22,290.51 217.56,290.34 217.89,290.18 218.23,290.01 218.56,289.84 218.90,289.67 219.23,289.50 219.57,289.33 219.90,289.15 220.24,288.98 220.57,288.80 220.90,288.62 221.24,288.45 221.57,288.27 221.91,288.08 222.24,287.90 222.58,287.72 222.91,287.53 223.25,287.34 223.58,287.16 223.91,286.97 224.25,286.77 224.58,286.58 224.92,286.39 225.25,286.19 225.59,285.99 225.92,285.80 226.26,285.60 226.59,285.39 226.93,285.19 227.26,284.99 227.59,284.78 227.93,284.57 228.26,284.36 228.60,284.15 228.93,283.94 229.27,283.73 229.60,283.51 229.94,283.29 230.27,283.07 230.61,282.85 230.94,282.63 231.27,282.41 231.61,282.18 231.94,281.95 232.28,281.72 232.61,281.49 232.95,281.26 233.28,281.03 233.62,280.79 233.95,280.55 234.28,280.31 234.62,280.07 234.95,279.83 235.29,279.58 235.62,279.33 235.96,279.08 236.29,278.83 236.63,278.58 236.96,278.33 237.30,278.07 237.63,277.81 237.96,277.55 238.30,277.28 238.63,277.02 238.97,276.75 239.30,276.48 239.64,276.21 239.97,275.94 240.31,275.66 240.64,275.39 240.97,275.11 241.31,274.82 241.64,274.54 241.98,274.25 242.31,273.96 242.65,273.67 242.98,273.38 243.32,273.09 243.65,272.79 243.99,272.49 244.32,272.19 244.65,271.88 244.99,271.57 245.32,271.26 245.66,270.95 245.99,270.64 246.33,270.32 246.66,270.00 247.00,269.68 247.33,269.36 247.66,269.03 248.00,268.70 248.33,268.37 248.67,268.03 249.00,267.70 249.34,267.36 249.67,267.01 250.01,266.67 250.34,266.32 250.68,265.97 251.01,265.62 251.34,265.26 251.68,264.90 252.01,264.54 252.35,264.17 252.68,263.81 253.02,263.44 253.35,263.06 253.69,262.69 254.02,262.31 254.35,261.92 254.69,261.54 255.02,261.15 255.36,260.76 255.69,260.36 256.03,259.96 256.36,259.56 256.70,259.16 257.03,258.75 257.37,258.34 257.70,257.93 258.03,257.51 258.37,257.09 258.70,256.66 259.04,256.24 259.37,255.80 259.71,255.37 260.04,254.93 260.38,254.49 260.71,254.05 261.04,253.60 261.38,253.15 261.71,252.69 262.05,252.23 262.38,251.77 262.72,251.30 263.05,250.83 263.39,250.35 263.72,249.88 264.06,249.39 264.39,248.91 264.72,248.42 265.06,247.92 265.39,247.43 265.73,246.92 266.06,246.42 266.40,245.91 266.73,245.39 267.07,244.87 267.40,244.35 267.74,243.82 268.07,243.29 268.40,242.76 268.74,242.22 269.07,241.67 269.41,241.12 269.74,240.57 270.08,240.01 270.41,239.45 270.75,238.88 271.08,238.31 271.41,237.73 271.75,237.15 272.08,236.57 272.42,235.98 272.75,235.38 273.09,234.78 273.42,234.18 273.76,233.57 274.09,232.95 274.43,232.33 274.76,231.70 275.09,231.07 275.43,230.44 275.76,229.80 276.10,229.15 276.43,228.50 276.77,227.84 277.10,227.18 277.44,226.51 277.77,225.84 278.10,225.16 278.44,224.47 278.77,223.78 279.11,223.09 279.44,222.39 279.78,221.68 280.11,220.96 280.45,220.24 280.78,219.52 281.12,218.79 281.45,218.05 281.78,217.31 282.12,216.56 282.45,215.80 282.79,215.04 283.12,214.27 283.46,213.49 283.79,212.71 284.13,211.92 284.46,211.13 284.79,210.33 285.13,209.52 285.46,208.70 285.80,207.88 286.13,207.05 286.47,206.22 286.80,205.37 287.14,204.52 287.47,203.67 287.81,202.80 288.14,201.93 288.47,201.05 288.81,200.16 289.14,199.27 289.48,198.37 289.81,197.46 290.15,196.54 290.48,195.62 290.82,194.69 291.15,193.75 291.48,192.80 291.82,191.85 292.15,190.88 292.49,189.91 292.82,188.93 293.16,187.94 293.49,186.95 293.83,185.94 294.16,184.93 294.50,183.91 294.83,182.87 295.16,181.84 295.50,180.79 295.83,179.73 296.17,178.67 296.50,177.59 296.84,176.51 297.17,175.41 297.51,174.31 297.84,173.20 298.18,172.08 298.51,170.95 298.84,169.81 299.18,168.66 299.51,167.51 299.85,166.34 300.18,165.16 300.52,163.97 300.85,162.78 301.19,161.57 301.52,160.35 301.85,159.13 302.19,157.89 302.52,156.64 302.86,155.39 303.19,154.12 303.53,152.84 303.86,151.55 304.20,150.25 304.53,148.94 304.87,147.62 305.20,146.29 305.53,144.95 305.87,143.60 306.20,142.24 306.54,140.87 306.87,139.49 307.21,138.09 307.54,136.69 307.88,135.27 308.21,133.85 308.54,132.41 308.88,130.96 309.21,129.50 309.55,128.03 309.88,126.55 310.22,125.06 310.55,123.56 310.89,122.05 311.22,120.53 311.56,119.00 311.89,117.46 312.22,115.90 312.56,114.34 312.89,112.77 313.23,111.18 313.56,109.59 313.90,107.99 314.23,106.38 314.57,104.75 314.90,103.12 315.23,101.49 315.57,99.84 315.90,98.18 316.24,96.52 316.57,94.85 316.91,93.17 317.24,91.48 317.58,89.79 317.91,88.09 318.25,86.39 318.58,84.68 318.91,82.96 319.25,81.24 319.58,79.52 319.92,77.79 320.25,76.07 320.59,74.34 320.92,72.61 321.26,70.87 321.59,69.14 321.92,67.42 322.26,65.69 322.59,63.97 322.93,62.25 323.26,60.54 323.60,58.83 323.93,57.13 324.27,55.44 324.60,53.76 324.94,52.09 325.27,50.44 325.60,48.80 325.94,47.18 326.27,45.57 326.61,43.98 326.94,42.42 327.28,40.87 327.61,39.36 327.95,37.86 328.28,36.40 328.61,34.97 328.95,33.56 329.28,32.20 329.62,30.86 329.95,29.57 330.29,28.32 330.62,27.10 330.96,25.94 331.29,24.82 331.63,23.74 331.96,22.72 332.29,21.75 332.63,20.83 332.96,19.97 333.30,19.17 333.63,18.42 333.97,17.74 334.30,17.12 334.64,16.56 334.97,16.07 335.31,15.64 335.64,15.28 335.97,14.99 336.31,14.77 336.64,14.61 336.98,14.53 337.31,14.51 337.65,14.57 337.98,14.69 338.32,14.88 338.65,15.15 338.98,15.48 339.32,15.87 339.65,16.34 339.99,16.87 340.32,17.46 340.66,18.11 340.99,18.83 341.33,19.61 341.66,20.44 342.00,21.34 342.33,22.28 342.66,23.28 343.00,24.34 343.33,25.44 343.67,26.58 344.00,27.77 344.34,29.01 344.67,30.29 345.01,31.60 345.34,32.95 345.67,34.34 346.01,35.76 346.34,37.21 346.68,38.69 347.01,40.20 347.35,41.73 347.68,43.29 348.02,44.87 348.35,46.46 348.69,48.08 349.02,49.71 349.35,51.36 349.69,53.02 350.02,54.70 350.36,56.38 350.69,58.08 351.03,59.78 351.36,61.49 351.70,63.21 352.03,64.93 352.36,66.65 352.70,68.38 353.03,70.11 353.37,71.84 353.70,73.57 354.04,75.30 354.37,77.03 354.71,78.76 355.04,80.48 355.38,82.20 355.71,83.92 356.04,85.63 356.38,87.34 356.71,89.04 357.05,90.73 357.38,92.42 357.72,94.11 358.05,95.78 358.39,97.45 358.72,99.11 359.05,100.76 359.39,102.40 359.72,104.04 360.06,105.66 360.39,107.28 360.73,108.88 361.06,110.48 361.40,112.07 361.73,113.65 362.07,115.21 362.40,116.77 362.73,118.32 363.07,119.85 363.40,121.38 363.74,122.90 364.07,124.40 364.41,125.90 364.74,127.38 365.08,128.86 365.41,130.32 365.74,131.77 366.08,133.21 366.41,134.64 366.75,136.06 367.08,137.47 367.42,138.87 367.75,140.26 368.09,141.64 368.42,143.00 368.76,144.36 369.09,145.70 369.42,147.04 369.76,148.36 370.09,149.68 370.43,150.98 370.76,152.27 371.10,153.55 371.43,154.83 371.77,156.09 372.10,157.34 372.44,158.58 372.77,159.81 373.10,161.03 373.44,162.25 373.77,163.45 374.11,164.64 374.44,165.82 374.78,166.99 375.11,168.15 375.45,169.31 375.78,170.45 376.11,171.58 376.45,172.71 376.78,173.82 377.12,174.93 377.45,176.03 377.79,177.11 378.12,178.19 378.46,179.26 378.79,180.32 379.13,181.37 379.46,182.42 379.79,183.45 380.13,184.48 380.46,185.49 380.80,186.50 381.13,187.50 381.47,188.49 381.80,189.48 382.14,190.45 382.47,191.42 382.80,192.38 383.14,193.33 383.47,194.27 383.81,195.21 384.14,196.14 384.48,197.06 384.81,197.97 385.15,198.87 385.48,199.77 385.82,200.66 386.15,201.54 386.48,202.42 386.82,203.28 387.15,204.14 387.49,205.00 387.82,205.84 388.16,206.68 388.49,207.51 388.83,208.34 389.16,209.16 389.49,209.97 389.83,210.77 390.16,211.57 390.50,212.36 390.83,213.15 391.17,213.93 391.50,214.70 391.84,215.46 392.17,216.22 392.51,216.98 392.84,217.72 393.17,218.46 393.51,219.20 393.84,219.92 394.18,220.65 394.51,221.36 394.85,222.07 395.18,222.78 395.52,223.48 395.85,224.17 396.18,224.86 396.52,225.54 396.85,226.21 397.19,226.88 397.52,227.55 397.86,228.21 398.19,228.86 398.53,229.51 398.86,230.16 399.20,230.79 399.53,231.43 399.86,232.05 400.20,232.68 400.53,233.29 400.87,233.91 401.20,234.51 401.54,235.12 401.87,235.71 402.21,236.31 402.54,236.90 402.87,237.48 403.21,238.06 403.54,238.63 403.88,239.20 404.21,239.76 404.55,240.32 404.88,240.88 405.22,241.43 405.55,241.98 405.89,242.52 406.22,243.06 406.55,243.59 406.89,244.12 407.22,244.64 407.56,245.16 407.89,245.68 408.23,246.19 408.56,246.70 408.90,247.20 409.23,247.70 409.57,248.20 409.90,248.69 410.23,249.18 410.57,249.66 410.90,250.14 411.24,250.62 411.57,251.09 411.91,251.56 412.24,252.03 412.58,252.49 412.91,252.94 413.24,253.40 413.58,253.85 413.91,254.29 414.25,254.74 414.58,255.18 414.92,255.61 415.25,256.05 415.59,256.47 415.92,256.90 416.26,257.32 416.59,257.74 416.92,258.16 417.26,258.57 417.59,258.98 417.93,259.38 418.26,259.79 418.60,260.19 418.93,260.58 419.27,260.98 419.60,261.37 419.93,261.75 420.27,262.14 420.60,262.52 420.94,262.90 421.27,263.27 421.61,263.64 421.94,264.01 422.28,264.38 422.61,264.74 422.95,265.10 423.28,265.46 423.61,265.81 423.95,266.17 424.28,266.51 424.62,266.86 424.95,267.21 425.29,267.55 425.62,267.88 425.96,268.22 426.29,268.55 426.62,268.88 426.96,269.21 427.29,269.54 427.63,269.86 427.96,270.18 428.30,270.50 428.63,270.81 428.97,271.13 429.30,271.44 429.64,271.75 429.97,272.05 430.30,272.35 430.64,272.66 430.97,272.95 431.31,273.25 431.64,273.54 431.98,273.84 432.31,274.13 432.65,274.41 432.98,274.70 433.31,274.98 433.65,275.26 433.98,275.54 434.32,275.82 434.65,276.09 434.99,276.36 435.32,276.63 435.66,276.90 435.99,277.17 436.33,277.43 436.66,277.69 436.99,277.95 437.33,278.21 437.66,278.47 438.00,278.72 438.33,278.97 438.67,279.22 439.00,279.47 439.34,279.72 439.67,279.96 440.00,280.21 440.34,280.45 440.67,280.69 441.01,280.92 441.34,281.16 441.68,281.39 442.01,281.62 442.35,281.85 442.68,282.08 443.02,282.31 443.35,282.53 443.68,282.76 444.02,282.98 444.35,283.20 444.69,283.41 445.02,283.63 445.36,283.85 445.69,284.06 446.03,284.27 446.36,284.48 446.70,284.69 447.03,284.90 447.36,285.10 447.70,285.31 448.03,285.51 448.37,285.71 448.70,285.91 449.04,286.11 449.37,286.30 449.71,286.50 450.04,286.69 450.37,286.88 450.71,287.07 451.04,287.26 451.38,287.45 451.71,287.63 452.05,287.82 452.38,288.00 452.72,288.19 453.05,288.37 453.39,288.55 453.72,288.72 454.05,288.90 454.39,289.08 454.72,289.25 455.06,289.42 455.39,289.59 455.73,289.76 456.06,289.93 456.40,290.10 456.73,290.27 457.06,290.43 457.40,290.60 457.73,290.76 458.07,290.92 458.40,291.08 458.74,291.24 459.07,291.40 459.41,291.56 459.74,291.71 460.08,291.87 460.41,292.02 460.74,292.17 461.08,292.33 461.41,292.48 461.75,292.63 462.08,292.77 462.42,292.92 462.75,293.07 463.09,293.21 463.42,293.36 463.75,293.50 464.09,293.64 464.42,293.78 464.76,293.92 465.09,294.06 465.43,294.20 465.76,294.33 466.10,294.47 466.43,294.60 466.77,294.74 467.10,294.87 467.43,295.00 467.77,295.13 468.10,295.26 468.44,295.39 468.77,295.52 469.11,295.65 469.44,295.78 469.78,295.90 470.11,296.02 470.44,296.15 470.78,296.27 471.11,296.39 471.45,296.51 471.78,296.63 472.12,296.75 472.45,296.87 472.79,296.99 473.12,297.11 473.46,297.22 473.79,297.34 474.12,297.45 474.46,297.57 474.79,297.68 475.13,297.79 475.46,297.90 475.80,298.01 476.13,298.12 476.47,298.23 476.80,298.34 477.13,298.44 477.47,298.55 477.80,298.66 478.14,298.76 478.47,298.87 478.81,298.97 479.14,299.07 479.48,299.17 479.81,299.28 480.15,299.38 480.48,299.48 480.81,299.58 481.15,299.67 481.48,299.77 481.82,299.87 482.15,299.97 482.49,300.06 482.82,300.16 483.16,300.25 483.49,300.34 483.83,300.44 484.16,300.53 484.49,300.62 484.83,300.71 485.16,300.80 485.50,300.89 485.83,300.98 486.17,301.07 486.50,301.16 486.84,301.25 487.17,301.33 487.50,301.42 487.84,301.51 488.17,301.59 488.51,301.68 488.84,301.76 489.18,301.84 489.51,301.93 489.85,302.01 490.18,302.09 490.52,302.17 490.85,302.25 491.18,302.33 491.52,302.41 491.85,302.49 492.19,302.57 492.52,302.65 492.86,302.73 493.19,302.80 493.53,302.88 493.86,302.95 494.19,303.03 494.53,303.10 494.86,303.18 495.20,303.25 495.53,303.33 495.87,303.40 496.20,303.47 496.54,303.54 496.87,303.61 497.21,303.68 497.54,303.76 497.87,303.82 498.21,303.89 498.54,303.96 498.88,304.03 499.21,304.10 499.55,304.17 499.88,304.23 500.22,304.30 500.55,304.37 500.88,304.43 501.22,304.50 501.55,304.56 501.89,304.63 502.22,304.69 502.56,304.76 502.89,304.82 503.23,304.88 503.56,304.94 503.90,305.01 504.23,305.07 504.56,305.13 504.90,305.19 505.23,305.25 505.57,305.31 505.90,305.37 506.24,305.43 506.57,305.49 506.91,305.55 507.24,305.60 507.57,305.66 507.91,305.72 508.24,305.78 508.58,305.83 508.91,305.89 509.25,305.94 509.58,306.00 509.92,306.06 510.25,306.11 510.59,306.16 510.92,306.22 511.25,306.27 511.59,306.33 511.92,306.38 512.26,306.43 512.59,306.48 512.93,306.54 513.26,306.59 513.60,306.64 513.93,306.69 514.26,306.74 514.60,306.79 514.93,306.84 515.27,306.89 515.60,306.94 515.94,306.99 516.27,307.04 516.61,307.09 516.94,307.13 517.28,307.18 517.61,307.23 517.94,307.28 518.28,307.32 518.61,307.37 518.95,307.42 519.28,307.46 519.62,307.51 519.95,307.55 520.29,307.60 520.62,307.64 520.96,307.69 521.29,307.73 521.62,307.77 521.96,307.82 522.29,307.86 522.63,307.91 522.96,307.95 523.30,307.99 523.63,308.03 523.97,308.07 524.30,308.12 524.63,308.16 524.97,308.20 525.30,308.24 525.64,308.28 525.97,308.32 526.31,308.36 526.64,308.40 526.98,308.44 527.31,308.48 527.65,308.52 527.98,308.56 528.31,308.60 528.65,308.64 528.98,308.68 529.32,308.71 529.65,308.75 529.99,308.79 530.32,308.83 530.66,308.86 530.99,308.90 531.32,308.94 531.66,308.97 531.99,309.01 532.33,309.05 532.66,309.08 533.00,309.12 533.33,309.15 533.67,309.19 534.00,309.22 534.34,309.26 534.67,309.29 535.00,309.33 535.34,309.36 535.67,309.39 536.01,309.43 536.34,309.46 536.68,309.49 537.01,309.53 537.35,309.56 537.68,309.59 538.01,309.62 538.35,309.66 538.68,309.69 539.02,309.72 539.35,309.75 539.69,309.78 540.02,309.82 540.36,309.85 540.69,309.88 541.03,309.91 541.36,309.94 541.69,309.97 542.03,310.00 542.36,310.03 542.70,310.06 543.03,310.09 543.37,310.12 543.70,310.15 544.04,310.18 544.37,310.21 544.70,310.23 545.04,310.26 545.37,310.29 545.71,310.32 546.04,310.35 546.38,310.38 546.71,310.40 547.05,310.43 547.38,310.46 547.72,310.49 548.05,310.51 548.38,310.54 548.72,310.57 549.05,310.59 549.39,310.62 549.72,310.65 550.06,310.67 550.39,310.70 550.73,310.72 551.06,310.75 551.39,310.77 551.73,310.80 552.06,310.83 552.40,310.85 552.73,310.88 553.07,310.90 553.40,310.92 553.74,310.95 554.07,310.97 554.41,311.00 554.74,311.02 555.07,311.05 555.41,311.07 555.74,311.09 556.08,311.12 556.41,311.14 556.75,311.16 557.08,311.19 557.42,311.21 557.75,311.23 558.09,311.26 558.42,311.28 558.75,311.30 559.09,311.32 559.42,311.34 559.76,311.37 560.09,311.39 560.43,311.41 560.76,311.43 561.10,311.45 561.43,311.48 561.76,311.50 562.10,311.52 562.43,311.54 562.77,311.56 563.10,311.58 563.44,311.60 563.77,311.62 564.11,311.64 564.44,311.66 564.78,311.68 565.11,311.70 565.44,311.72 565.78,311.74 566.11,311.76 566.45,311.78 566.78,311.80 567.12,311.82 567.45,311.84 567.79,311.86 568.12,311.88 568.45,311.90 568.79,311.92 569.12,311.94 569.46,311.96 569.79,311.97 570.13,311.99 570.46,312.01 570.80,312.03 571.13,312.05 571.47,312.07 571.80,312.08 572.13,312.10 572.47,312.12 572.80,312.14 573.14,312.16 573.47,312.17 573.81,312.19 574.14,312.21 574.48,312.22 574.81,312.24 575.14,312.26 575.48,312.28 575.81,312.29 576.15,312.31 576.48,312.33 576.82,312.34 577.15,312.36 577.49,312.38 577.82,312.39 578.16,312.41 578.49,312.42 578.82,312.44 579.16,312.46 579.49,312.47 579.83,312.49 580.16,312.50 580.50,312.52 580.83,312.53 581.17,312.55 581.50,312.57 581.83,312.58 582.17,312.60 582.50,312.61 582.84,312.63 583.17,312.64 583.51,312.66 583.84,312.67 584.18,312.69 584.51,312.70 584.85,312.71 585.18,312.73 585.51,312.74 585.85,312.76 586.18,312.77 586.52,312.79 586.85,312.80 587.19,312.81 587.52,312.83 587.86,312.84 588.19,312.86" stroke="#ff00ff" stroke-width="1.2" fill="none"/>
</g>
<path d="M87.5,436.7V62.5H587.5V436.7" stroke="#000" stroke-width="1.2" fill="none"/><path d="M86.9,437H588.1" stroke="#000" stroke-width="1.6" fill="none"/>
<text x="77.7" y="69.70" font-size="20" stroke="#000" stroke-width="0.6" text-anchor="end" textLength="19.9" lengthAdjust="spacingAndGlyphs">17</text>
<text x="77.7" y="155.95" font-size="20" stroke="#000" stroke-width="0.6" text-anchor="end" textLength="35.9" lengthAdjust="spacingAndGlyphs">17.5</text>
<text x="77.7" y="242.20" font-size="20" stroke="#000" stroke-width="0.6" text-anchor="end" textLength="20.3" lengthAdjust="spacingAndGlyphs">18</text>
<text x="77.7" y="328.45" font-size="20" stroke="#000" stroke-width="0.6" text-anchor="end" textLength="35.9" lengthAdjust="spacingAndGlyphs">18.5</text>
<text x="77.7" y="414.70" font-size="20" stroke="#000" stroke-width="0.6" text-anchor="end" textLength="19.9" lengthAdjust="spacingAndGlyphs">19</text>
<text x="106.90" y="462.9" font-size="20" stroke="#000" stroke-width="0.6" text-anchor="middle" textLength="51.5" lengthAdjust="spacingAndGlyphs">10500</text>
<text x="222.97" y="462.9" font-size="20" stroke="#000" stroke-width="0.6" text-anchor="middle" textLength="51.5" lengthAdjust="spacingAndGlyphs">10600</text>
<text x="339.04" y="462.9" font-size="20" stroke="#000" stroke-width="0.6" text-anchor="middle" textLength="51.5" lengthAdjust="spacingAndGlyphs">10700</text>
<text x="455.11" y="462.9" font-size="20" stroke="#000" stroke-width="0.6" text-anchor="middle" textLength="51.5" lengthAdjust="spacingAndGlyphs">10800</text>
<text x="571.18" y="462.9" font-size="20" stroke="#000" stroke-width="0.6" text-anchor="middle" textLength="51.5" lengthAdjust="spacingAndGlyphs">10900</text>
<text x="337" y="40.9" font-size="20" stroke="#000" stroke-width="0.6" text-anchor="middle" textLength="196.5" lengthAdjust="spacingAndGlyphs">OGLE-2025-BLG-0035</text>
<text x="336.8" y="491.8" font-size="20" stroke="#000" stroke-width="0.6" text-anchor="middle" textLength="128" lengthAdjust="spacingAndGlyphs">HJD - 2450000</text>
<text x="0" y="0" font-size="20" stroke="#000" stroke-width="0.6" text-anchor="middle" textLength="105.2" lengthAdjust="spacingAndGlyphs" transform="translate(26.8,249.6) rotate(-90)">I magnitude</text>
</svg></body></html>
